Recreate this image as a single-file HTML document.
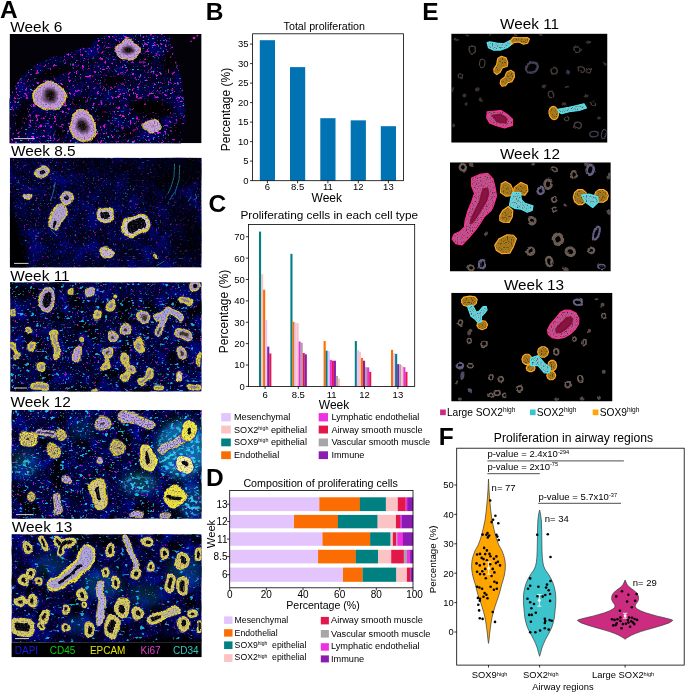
<!DOCTYPE html>
<html><head><meta charset="utf-8"><title>Figure</title>
<style>html,body{margin:0;padding:0;background:#fff}svg{display:block}text{font-family:"Liberation Sans", Arial, sans-serif}</style></head>
<body><svg width="685" height="693" viewBox="0 0 685 693">
<rect width="685" height="693" fill="#fff"/>
<text x="0.00" y="17.50" font-size="24.5" text-anchor="start" font-weight="bold" fill="#000" >A</text>
<text x="205.80" y="20.00" font-size="24.5" text-anchor="start" font-weight="bold" fill="#000" >B</text>
<text x="208.40" y="212.20" font-size="24.5" text-anchor="start" font-weight="bold" fill="#000" >C</text>
<text x="206.00" y="486.30" font-size="24.5" text-anchor="start" font-weight="bold" fill="#000" >D</text>
<text x="422.20" y="20.40" font-size="24.5" text-anchor="start" font-weight="bold" fill="#000" >E</text>
<text x="438.70" y="445.40" font-size="24.5" text-anchor="start" font-weight="bold" fill="#000" >F</text>
<text x="324.30" y="30.00" font-size="10.7" text-anchor="middle" font-weight="normal" fill="#000" >Total proliferation</text>
<rect x="259.80" y="40.20" width="15.20" height="140.40" fill="#0173b2" />
<line x1="267.40" y1="180.70" x2="267.40" y2="183.30" stroke="#000" stroke-width="0.8"/>
<rect x="290.00" y="67.11" width="15.20" height="113.49" fill="#0173b2" />
<line x1="297.60" y1="180.70" x2="297.60" y2="183.30" stroke="#000" stroke-width="0.8"/>
<rect x="320.30" y="118.20" width="15.20" height="62.40" fill="#0173b2" />
<line x1="327.90" y1="180.70" x2="327.90" y2="183.30" stroke="#000" stroke-width="0.8"/>
<rect x="350.70" y="120.34" width="15.20" height="60.25" fill="#0173b2" />
<line x1="358.30" y1="180.70" x2="358.30" y2="183.30" stroke="#000" stroke-width="0.8"/>
<rect x="380.80" y="126.19" width="15.20" height="54.41" fill="#0173b2" />
<line x1="388.40" y1="180.70" x2="388.40" y2="183.30" stroke="#000" stroke-width="0.8"/>
<text x="267.40" y="190.30" font-size="9.5" text-anchor="middle" font-weight="normal" fill="#000" >6</text>
<text x="297.60" y="190.30" font-size="9.5" text-anchor="middle" font-weight="normal" fill="#000" >8.5</text>
<text x="327.90" y="190.30" font-size="9.5" text-anchor="middle" font-weight="normal" fill="#000" >11</text>
<text x="358.30" y="190.30" font-size="9.5" text-anchor="middle" font-weight="normal" fill="#000" >12</text>
<text x="388.40" y="190.30" font-size="9.5" text-anchor="middle" font-weight="normal" fill="#000" >13</text>
<line x1="250.00" y1="180.60" x2="252.60" y2="180.60" stroke="#000" stroke-width="0.8"/>
<text x="248.60" y="183.90" font-size="9.5" text-anchor="end" font-weight="normal" fill="#000" >0</text>
<line x1="250.00" y1="161.10" x2="252.60" y2="161.10" stroke="#000" stroke-width="0.8"/>
<text x="248.60" y="164.40" font-size="9.5" text-anchor="end" font-weight="normal" fill="#000" >5</text>
<line x1="250.00" y1="141.60" x2="252.60" y2="141.60" stroke="#000" stroke-width="0.8"/>
<text x="248.60" y="144.90" font-size="9.5" text-anchor="end" font-weight="normal" fill="#000" >10</text>
<line x1="250.00" y1="122.10" x2="252.60" y2="122.10" stroke="#000" stroke-width="0.8"/>
<text x="248.60" y="125.40" font-size="9.5" text-anchor="end" font-weight="normal" fill="#000" >15</text>
<line x1="250.00" y1="102.60" x2="252.60" y2="102.60" stroke="#000" stroke-width="0.8"/>
<text x="248.60" y="105.90" font-size="9.5" text-anchor="end" font-weight="normal" fill="#000" >20</text>
<line x1="250.00" y1="83.10" x2="252.60" y2="83.10" stroke="#000" stroke-width="0.8"/>
<text x="248.60" y="86.40" font-size="9.5" text-anchor="end" font-weight="normal" fill="#000" >25</text>
<line x1="250.00" y1="63.60" x2="252.60" y2="63.60" stroke="#000" stroke-width="0.8"/>
<text x="248.60" y="66.90" font-size="9.5" text-anchor="end" font-weight="normal" fill="#000" >30</text>
<line x1="250.00" y1="44.10" x2="252.60" y2="44.10" stroke="#000" stroke-width="0.8"/>
<text x="248.60" y="47.40" font-size="9.5" text-anchor="end" font-weight="normal" fill="#000" >35</text>
<rect x="252.6" y="33.8" width="150.80" height="146.90" fill="none" stroke="#000" stroke-width="0.8"/>
<text x="326.80" y="202.40" font-size="12" text-anchor="middle" font-weight="normal" fill="#000" >Week</text>
<text transform="translate(230,109.5) rotate(-90)" font-size="12" text-anchor="middle">Percentage (%)</text>
<text x="240.40" y="218.60" font-size="11.8" text-anchor="start" font-weight="normal" fill="#000" >Proliferating cells in each cell type</text>
<rect x="259.00" y="231.61" width="2.10" height="154.79" fill="#008080" />
<rect x="261.05" y="274.15" width="2.10" height="112.25" fill="#fbc3c3" />
<rect x="263.10" y="289.76" width="2.10" height="96.64" fill="#fb6d02" />
<rect x="265.15" y="320.12" width="2.10" height="66.28" fill="#e4c4fd" />
<rect x="267.20" y="346.63" width="2.10" height="39.77" fill="#8b1cb2" />
<rect x="269.25" y="353.47" width="2.10" height="32.93" fill="#e3184a" />
<rect x="290.40" y="253.84" width="2.10" height="132.56" fill="#008080" />
<rect x="292.45" y="321.83" width="2.10" height="64.57" fill="#fb6d02" />
<rect x="294.50" y="322.90" width="2.10" height="63.50" fill="#e4c4fd" />
<rect x="296.55" y="323.12" width="2.10" height="63.28" fill="#fbc3c3" />
<rect x="298.60" y="341.50" width="2.10" height="44.90" fill="#ee30e4" />
<rect x="300.65" y="342.78" width="2.10" height="43.62" fill="#a6a6a6" />
<rect x="302.70" y="353.05" width="2.10" height="33.35" fill="#e3184a" />
<rect x="304.75" y="354.33" width="2.10" height="32.07" fill="#8b1cb2" />
<rect x="323.60" y="341.07" width="2.10" height="45.33" fill="#fb6d02" />
<rect x="325.65" y="350.70" width="2.10" height="35.70" fill="#008080" />
<rect x="327.70" y="351.12" width="2.10" height="35.28" fill="#e4c4fd" />
<rect x="329.75" y="359.89" width="2.10" height="26.51" fill="#ee30e4" />
<rect x="331.80" y="360.74" width="2.10" height="25.66" fill="#e3184a" />
<rect x="333.85" y="360.74" width="2.10" height="25.66" fill="#8b1cb2" />
<rect x="335.90" y="375.92" width="2.10" height="10.48" fill="#a6a6a6" />
<rect x="337.95" y="378.49" width="2.10" height="7.91" fill="#fbc3c3" />
<rect x="354.80" y="341.07" width="2.10" height="45.33" fill="#008080" />
<rect x="356.85" y="350.05" width="2.10" height="36.35" fill="#e4c4fd" />
<rect x="358.90" y="351.76" width="2.10" height="34.64" fill="#fbc3c3" />
<rect x="360.95" y="357.96" width="2.10" height="28.44" fill="#fb6d02" />
<rect x="363.00" y="360.74" width="2.10" height="25.66" fill="#8b1cb2" />
<rect x="365.05" y="367.16" width="2.10" height="19.24" fill="#a6a6a6" />
<rect x="367.10" y="367.37" width="2.10" height="19.03" fill="#ee30e4" />
<rect x="369.15" y="371.86" width="2.10" height="14.54" fill="#e3184a" />
<rect x="391.00" y="349.84" width="2.10" height="36.56" fill="#fb6d02" />
<rect x="393.05" y="353.05" width="2.10" height="33.35" fill="#e4c4fd" />
<rect x="395.10" y="353.90" width="2.10" height="32.50" fill="#008080" />
<rect x="397.15" y="364.16" width="2.10" height="22.24" fill="#8b1cb2" />
<rect x="399.20" y="364.38" width="2.10" height="22.02" fill="#a6a6a6" />
<rect x="401.25" y="365.88" width="2.10" height="20.52" fill="#fbc3c3" />
<rect x="403.30" y="367.16" width="2.10" height="19.24" fill="#ee30e4" />
<rect x="405.35" y="371.86" width="2.10" height="14.54" fill="#e3184a" />
<line x1="265.10" y1="386.40" x2="265.10" y2="389.00" stroke="#000" stroke-width="0.8"/>
<text x="265.10" y="397.90" font-size="9.5" text-anchor="middle" font-weight="normal" fill="#000" >6</text>
<line x1="298.30" y1="386.40" x2="298.30" y2="389.00" stroke="#000" stroke-width="0.8"/>
<text x="298.30" y="397.90" font-size="9.5" text-anchor="middle" font-weight="normal" fill="#000" >8.5</text>
<line x1="331.60" y1="386.40" x2="331.60" y2="389.00" stroke="#000" stroke-width="0.8"/>
<text x="331.60" y="397.90" font-size="9.5" text-anchor="middle" font-weight="normal" fill="#000" >11</text>
<line x1="364.50" y1="386.40" x2="364.50" y2="389.00" stroke="#000" stroke-width="0.8"/>
<text x="364.50" y="397.90" font-size="9.5" text-anchor="middle" font-weight="normal" fill="#000" >12</text>
<line x1="397.90" y1="386.40" x2="397.90" y2="389.00" stroke="#000" stroke-width="0.8"/>
<text x="397.90" y="397.90" font-size="9.5" text-anchor="middle" font-weight="normal" fill="#000" >13</text>
<line x1="245.90" y1="386.40" x2="248.50" y2="386.40" stroke="#000" stroke-width="0.8"/>
<text x="244.90" y="389.80" font-size="9.5" text-anchor="end" font-weight="normal" fill="#000" >0</text>
<line x1="245.90" y1="365.02" x2="248.50" y2="365.02" stroke="#000" stroke-width="0.8"/>
<text x="244.90" y="368.42" font-size="9.5" text-anchor="end" font-weight="normal" fill="#000" >10</text>
<line x1="245.90" y1="343.64" x2="248.50" y2="343.64" stroke="#000" stroke-width="0.8"/>
<text x="244.90" y="347.04" font-size="9.5" text-anchor="end" font-weight="normal" fill="#000" >20</text>
<line x1="245.90" y1="322.26" x2="248.50" y2="322.26" stroke="#000" stroke-width="0.8"/>
<text x="244.90" y="325.66" font-size="9.5" text-anchor="end" font-weight="normal" fill="#000" >30</text>
<line x1="245.90" y1="300.88" x2="248.50" y2="300.88" stroke="#000" stroke-width="0.8"/>
<text x="244.90" y="304.28" font-size="9.5" text-anchor="end" font-weight="normal" fill="#000" >40</text>
<line x1="245.90" y1="279.50" x2="248.50" y2="279.50" stroke="#000" stroke-width="0.8"/>
<text x="244.90" y="282.90" font-size="9.5" text-anchor="end" font-weight="normal" fill="#000" >50</text>
<line x1="245.90" y1="258.12" x2="248.50" y2="258.12" stroke="#000" stroke-width="0.8"/>
<text x="244.90" y="261.52" font-size="9.5" text-anchor="end" font-weight="normal" fill="#000" >60</text>
<line x1="245.90" y1="236.74" x2="248.50" y2="236.74" stroke="#000" stroke-width="0.8"/>
<text x="244.90" y="240.14" font-size="9.5" text-anchor="end" font-weight="normal" fill="#000" >70</text>
<rect x="248.5" y="224.4" width="166.20" height="162.00" fill="none" stroke="#000" stroke-width="0.8"/>
<text x="334.00" y="408.50" font-size="12" text-anchor="middle" font-weight="normal" fill="#000" >Week</text>
<text transform="translate(228.2,311.5) rotate(-90)" font-size="12" text-anchor="middle">Percentage (%)</text>
<rect x="221.20" y="413.10" width="9.60" height="8.30" fill="#e4c4fd" />
<text x="234.00" y="419.60" font-size="9.15" text-anchor="start" font-weight="normal" fill="#000" >Mesenchymal</text>
<rect x="221.20" y="425.60" width="9.60" height="7.90" fill="#fbc3c3" />
<text x="234.00" y="432.60" font-size="9.15" text-anchor="start" font-weight="normal" fill="#000" >SOX2<tspan dy="-2.8" font-size="5.3">high</tspan><tspan dy="2.8"> epithelial</tspan></text>
<rect x="221.20" y="438.50" width="9.60" height="7.80" fill="#008080" />
<text x="234.00" y="445.20" font-size="9.15" text-anchor="start" font-weight="normal" fill="#000" >SOX9<tspan dy="-2.8" font-size="5.3">high</tspan><tspan dy="2.8"> epithelial</tspan></text>
<rect x="221.20" y="451.30" width="9.60" height="7.80" fill="#fb6d02" />
<text x="234.00" y="458.10" font-size="9.15" text-anchor="start" font-weight="normal" fill="#000" >Endothelial</text>
<rect x="318.70" y="413.10" width="9.30" height="8.30" fill="#ee30e4" />
<text x="331.40" y="419.60" font-size="9.15" text-anchor="start" font-weight="normal" fill="#000" >Lymphatic endothelial</text>
<rect x="318.70" y="425.60" width="9.30" height="7.90" fill="#e3184a" />
<text x="331.40" y="432.60" font-size="9.15" text-anchor="start" font-weight="normal" fill="#000" >Airway smooth muscle</text>
<rect x="318.70" y="438.50" width="9.30" height="7.80" fill="#a6a6a6" />
<text x="331.40" y="445.20" font-size="9.15" text-anchor="start" font-weight="normal" fill="#000" >Vascular smooth muscle</text>
<rect x="318.70" y="451.30" width="9.30" height="7.80" fill="#8b1cb2" />
<text x="331.40" y="458.10" font-size="9.15" text-anchor="start" font-weight="normal" fill="#000" >Immune</text>
<text x="243.40" y="486.80" font-size="10.7" text-anchor="start" font-weight="normal" fill="#000" >Composition of proliferating cells</text>
<rect x="229.70" y="497.30" width="89.73" height="13.80" fill="#e4c4fd" />
<rect x="319.33" y="497.30" width="40.61" height="13.80" fill="#fb6d02" />
<rect x="359.84" y="497.30" width="26.13" height="13.80" fill="#008080" />
<rect x="385.87" y="497.30" width="12.01" height="13.80" fill="#fbc3c3" />
<rect x="397.79" y="497.30" width="7.98" height="13.80" fill="#e3184a" />
<rect x="405.67" y="497.30" width="1.57" height="13.80" fill="#ee30e4" />
<rect x="407.13" y="497.30" width="5.97" height="13.80" fill="#8b1cb2" />
<line x1="227.10" y1="504.20" x2="229.70" y2="504.20" stroke="#000" stroke-width="0.8"/>
<text x="227.50" y="507.80" font-size="10" text-anchor="end" font-weight="normal" fill="#000" >13</text>
<rect x="229.70" y="514.90" width="64.44" height="13.40" fill="#e4c4fd" />
<rect x="294.04" y="514.90" width="43.91" height="13.40" fill="#fb6d02" />
<rect x="337.85" y="514.90" width="39.88" height="13.40" fill="#008080" />
<rect x="377.62" y="514.90" width="18.43" height="13.40" fill="#fbc3c3" />
<rect x="395.95" y="514.90" width="4.13" height="13.40" fill="#e3184a" />
<rect x="399.99" y="514.90" width="1.57" height="13.40" fill="#ee30e4" />
<rect x="401.45" y="514.90" width="11.65" height="13.40" fill="#8b1cb2" />
<line x1="227.10" y1="521.60" x2="229.70" y2="521.60" stroke="#000" stroke-width="0.8"/>
<text x="227.50" y="525.20" font-size="10" text-anchor="end" font-weight="normal" fill="#000" >12</text>
<rect x="229.70" y="532.30" width="92.85" height="13.50" fill="#e4c4fd" />
<rect x="322.45" y="532.30" width="47.76" height="13.50" fill="#fb6d02" />
<rect x="370.11" y="532.30" width="20.26" height="13.50" fill="#008080" />
<rect x="390.27" y="532.30" width="1.20" height="13.50" fill="#a6a6a6" />
<rect x="391.37" y="532.30" width="1.57" height="13.50" fill="#fbc3c3" />
<rect x="392.84" y="532.30" width="3.58" height="13.50" fill="#e3184a" />
<rect x="396.32" y="532.30" width="1.02" height="13.50" fill="#a6a6a6" />
<rect x="397.24" y="532.30" width="5.78" height="13.50" fill="#ee30e4" />
<rect x="402.92" y="532.30" width="10.18" height="13.50" fill="#8b1cb2" />
<line x1="227.10" y1="539.05" x2="229.70" y2="539.05" stroke="#000" stroke-width="0.8"/>
<text x="227.50" y="542.65" font-size="10" text-anchor="end" font-weight="normal" fill="#000" >11</text>
<rect x="229.70" y="549.80" width="88.45" height="13.60" fill="#e4c4fd" />
<rect x="318.05" y="549.80" width="37.86" height="13.60" fill="#fb6d02" />
<rect x="355.81" y="549.80" width="22.46" height="13.60" fill="#008080" />
<rect x="378.17" y="549.80" width="13.11" height="13.60" fill="#fbc3c3" />
<rect x="391.19" y="549.80" width="12.75" height="13.60" fill="#e3184a" />
<rect x="403.83" y="549.80" width="3.22" height="13.60" fill="#a6a6a6" />
<rect x="406.95" y="549.80" width="3.22" height="13.60" fill="#ee30e4" />
<rect x="410.07" y="549.80" width="3.03" height="13.60" fill="#8b1cb2" />
<line x1="227.10" y1="556.60" x2="229.70" y2="556.60" stroke="#000" stroke-width="0.8"/>
<text x="227.50" y="560.20" font-size="10" text-anchor="end" font-weight="normal" fill="#000" >8.5</text>
<rect x="229.70" y="567.60" width="113.38" height="14.20" fill="#e4c4fd" />
<rect x="342.98" y="567.60" width="19.71" height="14.20" fill="#fb6d02" />
<rect x="362.59" y="567.60" width="33.83" height="14.20" fill="#008080" />
<rect x="396.32" y="567.60" width="10.73" height="14.20" fill="#fbc3c3" />
<rect x="406.95" y="567.60" width="3.58" height="14.20" fill="#e3184a" />
<rect x="410.43" y="567.60" width="2.67" height="14.20" fill="#8b1cb2" />
<line x1="227.10" y1="574.70" x2="229.70" y2="574.70" stroke="#000" stroke-width="0.8"/>
<text x="227.50" y="578.30" font-size="10" text-anchor="end" font-weight="normal" fill="#000" >6</text>
<line x1="229.70" y1="587.80" x2="229.70" y2="590.40" stroke="#000" stroke-width="0.8"/>
<text x="229.70" y="598.40" font-size="10" text-anchor="middle" font-weight="normal" fill="#000" >0</text>
<line x1="266.36" y1="587.80" x2="266.36" y2="590.40" stroke="#000" stroke-width="0.8"/>
<text x="266.36" y="598.40" font-size="10" text-anchor="middle" font-weight="normal" fill="#000" >20</text>
<line x1="303.02" y1="587.80" x2="303.02" y2="590.40" stroke="#000" stroke-width="0.8"/>
<text x="303.02" y="598.40" font-size="10" text-anchor="middle" font-weight="normal" fill="#000" >40</text>
<line x1="339.68" y1="587.80" x2="339.68" y2="590.40" stroke="#000" stroke-width="0.8"/>
<text x="339.68" y="598.40" font-size="10" text-anchor="middle" font-weight="normal" fill="#000" >60</text>
<line x1="376.34" y1="587.80" x2="376.34" y2="590.40" stroke="#000" stroke-width="0.8"/>
<text x="376.34" y="598.40" font-size="10" text-anchor="middle" font-weight="normal" fill="#000" >80</text>
<line x1="413.00" y1="587.80" x2="413.00" y2="590.40" stroke="#000" stroke-width="0.8"/>
<text x="414.50" y="598.40" font-size="10" text-anchor="middle" font-weight="normal" fill="#000" >100</text>
<rect x="229.7" y="490.4" width="183.30" height="97.40" fill="none" stroke="#000" stroke-width="0.8"/>
<text x="323.00" y="609.30" font-size="10.6" text-anchor="middle" font-weight="normal" fill="#000" >Percentage (%)</text>
<text transform="translate(215.1,534) rotate(-90)" font-size="11.2" text-anchor="middle">Week</text>
<rect x="224.10" y="616.40" width="8.40" height="7.50" fill="#e4c4fd" />
<text x="234.60" y="623.00" font-size="8.7" text-anchor="start" font-weight="normal" fill="#000" >Mesenchymal</text>
<rect x="224.10" y="629.20" width="8.40" height="7.40" fill="#fb6d02" />
<text x="234.60" y="635.60" font-size="8.7" text-anchor="start" font-weight="normal" fill="#000" >Endothelial</text>
<rect x="224.10" y="641.40" width="8.40" height="7.60" fill="#008080" />
<text x="234.60" y="648.10" font-size="8.7" text-anchor="start" font-weight="normal" fill="#000" >SOX9<tspan dy="-2.7" font-size="5.0">high</tspan><tspan dy="2.7">&#160;&#160;epithelial</tspan></text>
<rect x="224.10" y="654.20" width="8.40" height="7.70" fill="#fbc3c3" />
<text x="234.60" y="660.40" font-size="8.7" text-anchor="start" font-weight="normal" fill="#000" >SOX2<tspan dy="-2.7" font-size="5.0">high</tspan><tspan dy="2.7">&#160;&#160;epithelial</tspan></text>
<rect x="320.80" y="616.90" width="8.10" height="7.50" fill="#e3184a" />
<text x="331.00" y="623.40" font-size="9.2" text-anchor="start" font-weight="normal" fill="#000" >Airway smooth muscle</text>
<rect x="320.80" y="630.00" width="8.10" height="7.60" fill="#a6a6a6" />
<text x="331.00" y="636.50" font-size="9.2" text-anchor="start" font-weight="normal" fill="#000" >Vascular smooth muscle</text>
<rect x="320.80" y="643.20" width="8.10" height="7.50" fill="#ee30e4" />
<text x="331.00" y="649.00" font-size="9.2" text-anchor="start" font-weight="normal" fill="#000" >Lymphatic endothelial</text>
<rect x="320.80" y="655.40" width="8.10" height="7.00" fill="#8b1cb2" />
<text x="331.00" y="661.60" font-size="9.2" text-anchor="start" font-weight="normal" fill="#000" >Immune</text>
<text x="529.60" y="29.40" font-size="15.3" text-anchor="middle" font-weight="normal" fill="#000" >Week 11</text>
<text x="530.00" y="159.10" font-size="15.3" text-anchor="middle" font-weight="normal" fill="#000" >Week 12</text>
<text x="534.00" y="289.90" font-size="15.3" text-anchor="middle" font-weight="normal" fill="#000" >Week 13</text>
<rect x="440.10" y="409.50" width="5.70" height="5.70" fill="#cb2c80" />
<text x="446.90" y="415.80" font-size="10.2" text-anchor="start" font-weight="normal" fill="#000" >Large SOX2<tspan dy="-3.4" font-size="6.6">high</tspan></text>
<rect x="529.90" y="409.50" width="5.70" height="5.70" fill="#3cc4cc" />
<text x="536.70" y="415.80" font-size="10.2" text-anchor="start" font-weight="normal" fill="#000" >SOX2<tspan dy="-3.4" font-size="6.6">high</tspan></text>
<rect x="592.70" y="409.50" width="5.70" height="5.70" fill="#ffa50a" />
<text x="599.70" y="415.80" font-size="10.2" text-anchor="start" font-weight="normal" fill="#000" >SOX9<tspan dy="-3.4" font-size="6.6">high</tspan></text>
<text x="10.30" y="31.80" font-size="15.4" text-anchor="start" font-weight="normal" fill="#000" >Week 6</text>
<text x="10.90" y="155.60" font-size="15.4" text-anchor="start" font-weight="normal" fill="#000" >Week 8.5</text>
<text x="10.30" y="280.50" font-size="15.4" text-anchor="start" font-weight="normal" fill="#000" >Week 11</text>
<text x="10.40" y="406.80" font-size="15.4" text-anchor="start" font-weight="normal" fill="#000" >Week 12</text>
<text x="11.80" y="531.80" font-size="15.4" text-anchor="start" font-weight="normal" fill="#000" >Week 13</text>
<defs>
<filter id="fBlue" x="0" y="0" width="1" height="1" color-interpolation-filters="sRGB">
 <feTurbulence type="fractalNoise" baseFrequency="0.5" numOctaves="2" seed="3"/>
 <feColorMatrix type="matrix" values="0 0 0 0 0.04  0 0 0 0 0.04  0 0 0 0 0.85  3.2 0 0 0 -1.6"/>
</filter>
<filter id="fBlue2" x="0" y="0" width="1" height="1" color-interpolation-filters="sRGB">
 <feTurbulence type="fractalNoise" baseFrequency="0.07" numOctaves="2" seed="11"/>
 <feColorMatrix type="matrix" values="0 0 0 0 0.0  0 0 0 0 0.03  0 0 0 0 0.6  0 3.0 0 0 -1.35"/>
</filter>
<filter id="fMag" x="0" y="0" width="1" height="1" color-interpolation-filters="sRGB">
 <feTurbulence type="fractalNoise" baseFrequency="0.34" numOctaves="2" seed="5"/>
 <feColorMatrix type="matrix" values="0 0 0 0 0.85  0 0 0 0 0.1  0 0 0 0 0.85  15 0 0 0 -10.5"/>
</filter>
<filter id="fMagD" x="0" y="0" width="1" height="1" color-interpolation-filters="sRGB">
 <feTurbulence type="fractalNoise" baseFrequency="0.28" numOctaves="2" seed="8"/>
 <feColorMatrix type="matrix" values="0 0 0 0 0.88  0 0 0 0 0.08  0 0 0 0 0.9  14 0 0 0 -9.2"/>
</filter>
<filter id="fCy" x="0" y="0" width="1" height="1" color-interpolation-filters="sRGB">
 <feTurbulence type="fractalNoise" baseFrequency="0.4 0.55" numOctaves="1" seed="21"/>
 <feColorMatrix type="matrix" values="0 0 0 0 0.1  0 0 0 0 0.74  0 0 0 0 0.9  0 14 0 0 -9.5"/>
</filter>
<filter id="fCyD" x="0" y="0" width="1" height="1" color-interpolation-filters="sRGB">
 <feTurbulence type="fractalNoise" baseFrequency="0.2 0.3" numOctaves="2" seed="33"/>
 <feColorMatrix type="matrix" values="0 0 0 0 0.08  0 0 0 0 0.72  0 0 0 0 0.92  0 11 0 0 -7.3"/>
</filter>
<filter id="fDark" x="0" y="0" width="1" height="1" color-interpolation-filters="sRGB">
 <feTurbulence type="fractalNoise" baseFrequency="0.06" numOctaves="2" seed="17"/>
 <feColorMatrix type="matrix" values="0 0 0 0 0  0 0 0 0 0  0 0 0 0 0.04  0 0 -5 0 2.55"/>
</filter>
<filter id="fCyX" x="0" y="0" width="1" height="1" color-interpolation-filters="sRGB">
 <feTurbulence type="fractalNoise" baseFrequency="0.22 0.3" numOctaves="2" seed="52"/>
 <feColorMatrix type="matrix" values="0 0 0 0 0.2  0 0 0 0 0.8  0 0 0 0 0.95  0 9 0 0 -4.6"/>
</filter>
<filter id="fGr" x="0" y="0" width="1" height="1" color-interpolation-filters="sRGB">
 <feTurbulence type="fractalNoise" baseFrequency="0.4" numOctaves="1" seed="41"/>
 <feColorMatrix type="matrix" values="0 0 0 0 0.1  0 0 0 0 0.85  0 0 0 0 0.3  0 0 14 0 -10.0"/>
</filter>
<filter id="fTex" filterUnits="userSpaceOnUse" x="0" y="0" width="210" height="693" color-interpolation-filters="sRGB">
 <feTurbulence type="fractalNoise" baseFrequency="0.07" numOctaves="1" seed="7" result="w"/>
 <feDisplacementMap in="SourceGraphic" in2="w" scale="9" xChannelSelector="R" yChannelSelector="G" result="sg"/>
 <feTurbulence type="fractalNoise" baseFrequency="0.7" numOctaves="1" seed="2" result="n"/>
 <feColorMatrix in="n" type="matrix" values="0 0 0 0 0.3  0 0 0 0 0.26  0 0 0 0 0.5  -3.2 0 0 0 1.8" result="dark"/>
 <feComposite in="dark" in2="sg" operator="in" result="d2"/>
 <feMerge><feMergeNode in="sg"/><feMergeNode in="d2"/></feMerge>
</filter>
<filter id="fTexL" filterUnits="userSpaceOnUse" x="0" y="0" width="210" height="693" color-interpolation-filters="sRGB">
 <feTurbulence type="fractalNoise" baseFrequency="0.07" numOctaves="1" seed="7" result="w"/>
 <feDisplacementMap in="SourceGraphic" in2="w" scale="9" xChannelSelector="R" yChannelSelector="G" result="sg"/>
 <feTurbulence type="fractalNoise" baseFrequency="0.7" numOctaves="1" seed="2" result="n"/>
 <feColorMatrix in="n" type="matrix" values="0 0 0 0 0.35  0 0 0 0 0.3  0 0 0 0 0.5  -2.6 0 0 0 1.3" result="dark"/>
 <feComposite in="dark" in2="sg" operator="in" result="d2"/>
 <feMerge><feMergeNode in="sg"/><feMergeNode in="d2"/></feMerge>
</filter>
<filter id="blur2"><feGaussianBlur stdDeviation="2.2"/></filter>
<filter id="blur1"><feGaussianBlur stdDeviation="0.5"/></filter>
<filter id="blur4"><feGaussianBlur stdDeviation="4"/></filter>
</defs>
<clipPath id="cl1"><rect x="9.6" y="33.9" width="192.00" height="109.40"/></clipPath>
<g clip-path="url(#cl1)">
<rect x="9.6" y="33.9" width="192.00" height="109.40" fill="#020208"/>
<clipPath id="tis1"><polygon points="8.0,101.5 13.7,88.7 22.9,74.3 36.6,64.3 50.9,57.5 69.5,52.9 83.0,47.2 90.4,47.7 93.8,40.3 106.7,34.0 168.2,33.4 173.1,47.2 177.4,64.3 181.7,81.5 184.5,101.5 186.0,121.6 181.1,144.4 8.0,144.4"/></clipPath>
<g clip-path="url(#tis1)">
<polygon points="8.0,101.5 13.7,88.7 22.9,74.3 36.6,64.3 50.9,57.5 69.5,52.9 83.0,47.2 90.4,47.7 93.8,40.3 106.7,34.0 168.2,33.4 173.1,47.2 177.4,64.3 181.7,81.5 184.5,101.5 186.0,121.6 181.1,144.4 8.0,144.4" fill="#02021c"/>
<rect x="9.6" y="33.9" width="192.00" height="109.40" filter="url(#fBlue2)" opacity="0.6"/>
<rect x="9.6" y="33.9" width="192.00" height="109.40" filter="url(#fBlue)" opacity="0.65"/>
<rect x="9.6" y="33.9" width="192.00" height="109.40" filter="url(#fCy)" opacity="0.9"/>
<rect x="9.6" y="33.9" width="192.00" height="109.40" filter="url(#fMagD)" opacity="1"/>
<rect x="9.6" y="33.9" width="192.00" height="109.40" filter="url(#fGr)" opacity="0.5"/>
<g filter="url(#blur2)" fill="#000">
<ellipse cx="53.8" cy="72.9" rx="20.0" ry="4.9" opacity="1" transform="rotate(-16 53.8 72.9)"/>
<ellipse cx="115.3" cy="80.1" rx="12.9" ry="6.3" opacity="0.9" transform="rotate(-10 115.3 80.1)"/>
<ellipse cx="151.1" cy="108.7" rx="22.9" ry="9.2" opacity="1" transform="rotate(5 151.1 108.7)"/>
<ellipse cx="79.5" cy="101.5" rx="8.6" ry="5.2" opacity="0.9" transform="rotate(0 79.5 101.5)"/>
<ellipse cx="20.9" cy="115.8" rx="6.3" ry="17.2" opacity="0.9" transform="rotate(20 20.9 115.8)"/>
<ellipse cx="102.4" cy="115.8" rx="7.2" ry="8.6" opacity="0.8" transform="rotate(0 102.4 115.8)"/>
<ellipse cx="169.7" cy="61.5" rx="8.0" ry="12.9" opacity="0.9" transform="rotate(10 169.7 61.5)"/>
<ellipse cx="142.5" cy="58.6" rx="11.4" ry="4.0" opacity="0.8" transform="rotate(0 142.5 58.6)"/>
<ellipse cx="59.5" cy="133.0" rx="7.2" ry="5.7" opacity="0.8" transform="rotate(0 59.5 133.0)"/>
<ellipse cx="93.8" cy="61.5" rx="7.2" ry="3.4" opacity="0.8" transform="rotate(-30 93.8 61.5)"/>
<ellipse cx="176.8" cy="133.0" rx="8.6" ry="11.4" opacity="0.8" transform="rotate(0 176.8 133.0)"/>
<ellipse cx="128.2" cy="133.0" rx="11.4" ry="5.7" opacity="0.7" transform="rotate(0 128.2 133.0)"/>
</g>
<rect x="9.6" y="33.9" width="192.00" height="109.40" filter="url(#fMag)" opacity="0.8"/>
</g>
<circle cx="194.0" cy="38.0" r="1.3" fill="#d020d0"/><circle cx="197.4" cy="35.7" r="0.9" fill="#d020d0"/><circle cx="191.1" cy="41.4" r="0.8" fill="#c020d0"/>
<defs><radialGradient id="rg1"><stop offset="0" stop-color="#0c0806"/><stop offset="0.22" stop-color="#1c120c"/><stop offset="0.42" stop-color="#7a5a88"/><stop offset="0.6" stop-color="#c49cdc"/><stop offset="0.86" stop-color="#c898d8"/><stop offset="0.93" stop-color="#e0d030"/><stop offset="1" stop-color="#d8c828"/></radialGradient><radialGradient id="rg1b"><stop offset="0" stop-color="#a888b0"/><stop offset="0.5" stop-color="#d0a8dc"/><stop offset="0.84" stop-color="#c8a0d8"/><stop offset="0.93" stop-color="#e0d030"/><stop offset="1" stop-color="#d8c828"/></radialGradient></defs>
<g filter="url(#fTexL)">
<ellipse cx="49.8" cy="96.4" rx="16.6" ry="14.3" fill="url(#rg1)"/>
<ellipse cx="83.0" cy="125.9" rx="14.0" ry="16.0" fill="url(#rg1)"/>
<ellipse cx="127.6" cy="49.5" rx="11.4" ry="10.3" fill="url(#rg1)"/>
<ellipse cx="152.5" cy="125.9" rx="10.3" ry="8.6" fill="url(#rg1b)"/>
</g>
<line x1="13.9" y1="138.6" x2="34.8" y2="138.6" stroke="#e8e8e8" stroke-width="0.9"/>
</g>
<clipPath id="cl2"><rect x="9.9" y="157.8" width="191.70" height="109.80"/></clipPath>
<g clip-path="url(#cl2)">
<rect x="9.9" y="157.8" width="191.70" height="109.80" fill="#02021a"/>
<rect x="9.9" y="157.8" width="191.70" height="109.80" filter="url(#fBlue2)" opacity="0.6"/>
<rect x="9.9" y="157.8" width="191.70" height="109.80" filter="url(#fBlue)" opacity="0.6"/>
<rect x="9.9" y="157.8" width="191.70" height="109.80" filter="url(#fCy)" opacity="0.5"/>
<rect x="9.9" y="157.8" width="191.70" height="109.80" filter="url(#fMag)" opacity="0.55"/>
<rect x="9.9" y="157.8" width="191.70" height="109.80" filter="url(#fGr)" opacity="0.4"/>
<g filter="url(#blur2)" fill="#000">
<polygon points="8.0,188.3 11.4,196.9 14.9,214.1 18.9,229.8 25.2,254.1 29.7,269.0 8.0,269.0"/>
</g>
<g filter="url(#blur4)" fill="#000">
<ellipse cx="179.7" cy="171.2" rx="25.8" ry="17.2" opacity="0.75"/>
<ellipse cx="191.1" cy="239.8" rx="17.2" ry="20.0" opacity="0.6"/>
<ellipse cx="93.8" cy="165.4" rx="22.9" ry="8.6" opacity="0.55"/>
<ellipse cx="156.8" cy="188.3" rx="17.2" ry="14.3" opacity="0.5"/>
<ellipse cx="179.7" cy="211.2" rx="17.2" ry="11.4" opacity="0.45"/>
<ellipse cx="128.2" cy="171.2" rx="17.2" ry="11.4" opacity="0.5"/>
</g>
<g fill="none" stroke="#22c4dc" stroke-width="1.0" stroke-linecap="round" opacity="0.6" stroke-dasharray="2.5 1">
<path d="M55.2,182.6 L53.2,192.6 L50.9,199.8"/>
<path d="M179.7,165.4 L179.1,179.8 L175.4,191.2 L169.7,199.8"/>
<path d="M174.5,164.0 L174.0,176.9 L171.1,186.9 L167.7,194.1"/>
<path d="M195.4,194.1 L196.8,198.3 L194.0,199.8"/>
<path d="M191.1,196.9 L188.3,201.2"/>
<path d="M50.9,229.8 L56.6,235.5"/>
<path d="M156.8,265.6 L163.9,261.3"/>
</g>
<g filter="url(#fTexL)">
<g fill="none" stroke="#1010a8" stroke-opacity="0.5" stroke-linecap="round" stroke-linejoin="round">
<path d="M40.5,173.3 L44.2,171.9" stroke-width="15.8"/>
<path d="M26.0,195.8 L28.9,196.3" stroke-width="9.5"/>
<path d="M66.7,198.3 L66.7,198.3" stroke-width="15.2"/>
<path d="M61.8,209.8 L53.8,224.1" stroke-width="15.8"/>
<path d="M101.9,214.0 L107.5,213.0" stroke-width="15.2"/>
<path d="M131.3,227.8 L141.1,223.2" stroke-width="21.5"/>
<path d="M106.2,252.5 L109.0,253.0" stroke-width="12.9"/>
<path d="M155.4,254.1 L155.9,257.6" stroke-width="5.2"/>
</g>
<g fill="none" stroke-linecap="round" stroke-linejoin="round">
<path d="M40.5,173.3 L44.2,171.9" stroke="#e2d224" stroke-width="13.2"/>
<path d="M26.0,195.8 L28.9,196.3" stroke="#e2d224" stroke-width="6.9"/>
<path d="M66.7,198.3 L66.7,198.3" stroke="#e2d224" stroke-width="12.6"/>
<path d="M61.8,209.8 L53.8,224.1" stroke="#e2d224" stroke-width="13.2"/>
<path d="M101.9,214.0 L107.5,213.0" stroke="#e2d224" stroke-width="12.6"/>
<path d="M131.3,227.8 L141.1,223.2" stroke="#e2d224" stroke-width="18.9"/>
<path d="M106.2,252.5 L109.0,253.0" stroke="#e2d224" stroke-width="10.3"/>
<path d="M155.4,254.1 L155.9,257.6" stroke="#e2d224" stroke-width="2.6"/>
<path d="M40.5,173.3 L44.2,171.9" stroke="#b8a8d0" stroke-width="10.0"/>
<path d="M26.0,195.8 L28.9,196.3" stroke="#c0b0c8" stroke-width="4.5"/>
<path d="M66.7,198.3 L66.7,198.3" stroke="#b8a4d4" stroke-width="9.8"/>
<path d="M61.8,209.8 L53.8,224.1" stroke="#b4a4d0" stroke-width="10.0"/>
<path d="M101.9,214.0 L107.5,213.0" stroke="#c8b8c8" stroke-width="9.4"/>
<path d="M131.3,227.8 L141.1,223.2" stroke="#d0c8d0" stroke-width="14.5"/>
<path d="M106.2,252.5 L109.0,253.0" stroke="#c8b4cc" stroke-width="7.3"/>
<path d="M41.0,173.1 L43.7,172.1" stroke="#05050a" stroke-width="4.6"/>
<path d="M66.7,198.3 L66.7,198.3" stroke="#05050a" stroke-width="4.0"/>
<path d="M55.2,221.2 L53.2,227.0" stroke="#05050a" stroke-width="2.9"/>
<path d="M102.7,213.9 L106.7,213.2" stroke="#05050a" stroke-width="4.9"/>
<path d="M132.7,227.1 L139.6,223.9" stroke="#030306" stroke-width="10.9"/>
</g></g>
<line x1="14" y1="263.4" x2="28.6" y2="263.4" stroke="#e8e8e8" stroke-width="0.9"/>
</g>
<clipPath id="cl3"><rect x="10.2" y="282.2" width="191.40" height="109.40"/></clipPath>
<g clip-path="url(#cl3)">
<rect x="10.2" y="282.2" width="191.40" height="109.40" fill="#020226"/>
<rect x="10.2" y="282.2" width="191.40" height="109.40" filter="url(#fBlue2)" opacity="0.75"/>
<rect x="10.2" y="282.2" width="191.40" height="109.40" filter="url(#fBlue)" opacity="0.7"/>
<rect x="10.2" y="282.2" width="191.40" height="109.40" filter="url(#fDark)" opacity="1"/>
<rect x="10.2" y="282.2" width="191.40" height="109.40" filter="url(#fCyD)" opacity="0.95"/>
<rect x="10.2" y="282.2" width="191.40" height="109.40" filter="url(#fCy)" opacity="0.8"/>
<rect x="10.2" y="282.2" width="191.40" height="109.40" filter="url(#fMag)" opacity="0.8"/>
<rect x="10.2" y="282.2" width="191.40" height="109.40" filter="url(#fGr)" opacity="0.7"/>
<g filter="url(#fTexL)">
<g fill="none" stroke="#1010a8" stroke-opacity="0.5" stroke-linecap="round" stroke-linejoin="round">
<path d="M45.7,295.8 L47.6,304.8" stroke-width="17.5"/>
<path d="M70.4,290.9 L72.7,290.9" stroke-width="8.3"/>
<path d="M90.4,291.2 L90.4,293.5" stroke-width="11.2"/>
<path d="M111.6,303.6 L110.4,306.8" stroke-width="12.3"/>
<path d="M97.8,314.6 L98.4,314.6" stroke-width="10.6"/>
<path d="M115.3,296.6 L115.3,296.6" stroke-width="6.6"/>
<path d="M143.1,315.8 L143.1,317.5" stroke-width="12.9"/>
<path d="M155.1,318.3 L165.9,312.6 L170.2,310.0 L176.0,314.1 L181.1,318.3" stroke-width="9.5"/>
<path d="M163.9,314.6 L160.8,320.9 L159.1,332.4" stroke-width="9.5"/>
<path d="M183.8,299.7 L187.0,302.0" stroke-width="10.6"/>
<path d="M193.4,286.0 L195.7,286.0" stroke-width="12.9"/>
<path d="M179.2,332.2 L185.9,335.4" stroke-width="12.9"/>
<path d="M113.9,336.1 L113.9,336.1" stroke-width="14.6"/>
<path d="M125.3,328.9 L125.3,328.9" stroke-width="14.0"/>
<path d="M138.5,342.3 L141.9,348.2" stroke-width="10.6"/>
<path d="M181.1,353.8 L181.1,355.5" stroke-width="14.0"/>
<path d="M199.1,353.3 L199.1,365.8" stroke-width="7.2"/>
<path d="M54.6,334.1 L55.8,356.4" stroke-width="10.0"/>
<path d="M28.0,330.1 L28.0,331.8" stroke-width="9.5"/>
<path d="M32.3,345.8 L32.3,346.4" stroke-width="10.6"/>
<path d="M12.0,345.2 L12.0,345.2" stroke-width="8.9"/>
<path d="M16.6,356.7 L16.6,356.7" stroke-width="9.5"/>
<path d="M12.0,345.2 L16.6,356.7" stroke-width="6.0"/>
<path d="M13.2,311.8 L13.2,312.9" stroke-width="9.5"/>
<path d="M81.0,339.5 L81.0,339.5" stroke-width="8.3"/>
<path d="M76.7,349.5 L76.1,358.1" stroke-width="11.2"/>
<path d="M108.1,353.0 L108.2,353.0" stroke-width="12.9"/>
<path d="M103.9,367.3 L103.9,367.3" stroke-width="12.3"/>
<path d="M108.1,353.0 L103.9,367.3" stroke-width="7.8"/>
<path d="M124.7,358.1 L124.7,358.1" stroke-width="11.8"/>
<path d="M131.6,369.0 L131.6,369.0" stroke-width="12.9"/>
<path d="M123.9,377.6 L123.9,377.6" stroke-width="11.2"/>
<path d="M124.7,358.1 L131.6,369.0 L123.9,377.6" stroke-width="8.3"/>
<path d="M141.0,381.6 L141.1,381.6" stroke-width="12.3"/>
<path d="M150.2,373.9 L150.2,373.9" stroke-width="11.8"/>
<path d="M141.0,381.6 L150.2,373.9" stroke-width="7.8"/>
<path d="M40.9,366.4 L40.9,368.1" stroke-width="11.2"/>
<path d="M33.2,386.7 L45.8,386.7" stroke-width="10.6"/>
<path d="M179.7,375.6 L179.7,377.9" stroke-width="9.5"/>
<path d="M190.0,386.6 L197.9,388.0" stroke-width="9.5"/>
<path d="M155.4,388.4 L161.1,388.4" stroke-width="8.3"/>
<path d="M93.3,389.6 L94.4,389.6" stroke-width="7.2"/>
</g>
<g fill="none" stroke-linecap="round" stroke-linejoin="round">
<path d="M45.7,295.8 L47.6,304.8" stroke="#e2d224" stroke-width="14.9"/>
<path d="M70.4,290.9 L72.7,290.9" stroke="#e2d224" stroke-width="5.7"/>
<path d="M90.4,291.2 L90.4,293.5" stroke="#e2d224" stroke-width="8.6"/>
<path d="M111.6,303.6 L110.4,306.8" stroke="#e2d224" stroke-width="9.7"/>
<path d="M97.8,314.6 L98.4,314.6" stroke="#e2d224" stroke-width="8.0"/>
<path d="M115.3,296.6 L115.3,296.6" stroke="#e2d224" stroke-width="4.0"/>
<path d="M143.1,315.8 L143.1,317.5" stroke="#e2d224" stroke-width="10.3"/>
<path d="M155.1,318.3 L165.9,312.6 L170.2,310.0 L176.0,314.1 L181.1,318.3" stroke="#e2d224" stroke-width="6.9"/>
<path d="M163.9,314.6 L160.8,320.9 L159.1,332.4" stroke="#e2d224" stroke-width="6.9"/>
<path d="M183.8,299.7 L187.0,302.0" stroke="#e2d224" stroke-width="8.0"/>
<path d="M193.4,286.0 L195.7,286.0" stroke="#e2d224" stroke-width="10.3"/>
<path d="M179.2,332.2 L185.9,335.4" stroke="#e2d224" stroke-width="10.3"/>
<path d="M113.9,336.1 L113.9,336.1" stroke="#e2d224" stroke-width="12.0"/>
<path d="M125.3,328.9 L125.3,328.9" stroke="#e2d224" stroke-width="11.4"/>
<path d="M138.5,342.3 L141.9,348.2" stroke="#e2d224" stroke-width="8.0"/>
<path d="M181.1,353.8 L181.1,355.5" stroke="#e2d224" stroke-width="11.4"/>
<path d="M199.1,353.3 L199.1,365.8" stroke="#e2d224" stroke-width="4.6"/>
<path d="M54.6,334.1 L55.8,356.4" stroke="#e2d224" stroke-width="7.4"/>
<path d="M28.0,330.1 L28.0,331.8" stroke="#e2d224" stroke-width="6.9"/>
<path d="M32.3,345.8 L32.3,346.4" stroke="#e2d224" stroke-width="8.0"/>
<path d="M12.0,345.2 L12.0,345.2" stroke="#e2d224" stroke-width="6.3"/>
<path d="M16.6,356.7 L16.6,356.7" stroke="#e2d224" stroke-width="6.9"/>
<path d="M12.0,345.2 L16.6,356.7" stroke="#e2d224" stroke-width="3.4"/>
<path d="M13.2,311.8 L13.2,312.9" stroke="#e2d224" stroke-width="6.9"/>
<path d="M81.0,339.5 L81.0,339.5" stroke="#e2d224" stroke-width="5.7"/>
<path d="M76.7,349.5 L76.1,358.1" stroke="#e2d224" stroke-width="8.6"/>
<path d="M108.1,353.0 L108.2,353.0" stroke="#e2d224" stroke-width="10.3"/>
<path d="M103.9,367.3 L103.9,367.3" stroke="#e2d224" stroke-width="9.7"/>
<path d="M108.1,353.0 L103.9,367.3" stroke="#e2d224" stroke-width="5.2"/>
<path d="M124.7,358.1 L124.7,358.1" stroke="#e2d224" stroke-width="9.2"/>
<path d="M131.6,369.0 L131.6,369.0" stroke="#e2d224" stroke-width="10.3"/>
<path d="M123.9,377.6 L123.9,377.6" stroke="#e2d224" stroke-width="8.6"/>
<path d="M124.7,358.1 L131.6,369.0 L123.9,377.6" stroke="#e2d224" stroke-width="5.7"/>
<path d="M141.0,381.6 L141.1,381.6" stroke="#e2d224" stroke-width="9.7"/>
<path d="M150.2,373.9 L150.2,373.9" stroke="#e2d224" stroke-width="9.2"/>
<path d="M141.0,381.6 L150.2,373.9" stroke="#e2d224" stroke-width="5.2"/>
<path d="M40.9,366.4 L40.9,368.1" stroke="#e2d224" stroke-width="8.6"/>
<path d="M33.2,386.7 L45.8,386.7" stroke="#e2d224" stroke-width="8.0"/>
<path d="M179.7,375.6 L179.7,377.9" stroke="#e2d224" stroke-width="6.9"/>
<path d="M190.0,386.6 L197.9,388.0" stroke="#e2d224" stroke-width="6.9"/>
<path d="M155.4,388.4 L161.1,388.4" stroke="#e2d224" stroke-width="5.7"/>
<path d="M93.3,389.6 L94.4,389.6" stroke="#e2d224" stroke-width="4.6"/>
<path d="M45.7,295.8 L47.6,304.8" stroke="#b09ccc" stroke-width="12.2"/>
<path d="M70.4,290.9 L72.7,290.9" stroke="#c8b850" stroke-width="3.0"/>
<path d="M90.4,291.2 L90.4,293.5" stroke="#b0a0e0" stroke-width="5.9"/>
<path d="M111.6,303.6 L110.4,306.8" stroke="#cdbe5c" stroke-width="7.0"/>
<path d="M97.8,314.6 L98.4,314.6" stroke="#cdbe5c" stroke-width="5.3"/>
<path d="M115.3,296.6 L115.3,296.6" stroke="#e2d224" stroke-width="1.3"/>
<path d="M143.1,315.8 L143.1,317.5" stroke="#b09ccc" stroke-width="7.6"/>
<path d="M155.1,318.3 L165.9,312.6 L170.2,310.0 L176.0,314.1 L181.1,318.3" stroke="#a8a0dc" stroke-width="4.5"/>
<path d="M163.9,314.6 L160.8,320.9 L159.1,332.4" stroke="#a8a0dc" stroke-width="4.5"/>
<path d="M183.8,299.7 L187.0,302.0" stroke="#cdbe5c" stroke-width="5.3"/>
<path d="M193.4,286.0 L195.7,286.0" stroke="#b09ccc" stroke-width="7.6"/>
<path d="M179.2,332.2 L185.9,335.4" stroke="#b09ccc" stroke-width="7.6"/>
<path d="M113.9,336.1 L113.9,336.1" stroke="#b09ccc" stroke-width="9.3"/>
<path d="M125.3,328.9 L125.3,328.9" stroke="#b09ccc" stroke-width="8.7"/>
<path d="M138.5,342.3 L141.9,348.2" stroke="#cdbe5c" stroke-width="5.3"/>
<path d="M181.1,353.8 L181.1,355.5" stroke="#b09ccc" stroke-width="8.7"/>
<path d="M199.1,353.3 L199.1,365.8" stroke="#cdbe5c" stroke-width="1.9"/>
<path d="M54.6,334.1 L55.8,356.4" stroke="#cdbe5c" stroke-width="4.7"/>
<path d="M28.0,330.1 L28.0,331.8" stroke="#cdbe5c" stroke-width="4.2"/>
<path d="M32.3,345.8 L32.3,346.4" stroke="#cdbe5c" stroke-width="5.3"/>
<path d="M12.0,345.2 L12.0,345.2" stroke="#cdbe5c" stroke-width="3.6"/>
<path d="M16.6,356.7 L16.6,356.7" stroke="#cdbe5c" stroke-width="4.2"/>
<path d="M12.0,345.2 L16.6,356.7" stroke="#cdbe5c" stroke-width="0.7"/>
<path d="M13.2,311.8 L13.2,312.9" stroke="#cdbe5c" stroke-width="4.2"/>
<path d="M81.0,339.5 L81.0,339.5" stroke="#c8b850" stroke-width="3.0"/>
<path d="M76.7,349.5 L76.1,358.1" stroke="#b898d8" stroke-width="5.9"/>
<path d="M108.1,353.0 L108.2,353.0" stroke="#b09ccc" stroke-width="7.6"/>
<path d="M103.9,367.3 L103.9,367.3" stroke="#cdbe5c" stroke-width="7.0"/>
<path d="M108.1,353.0 L103.9,367.3" stroke="#cdbe5c" stroke-width="2.5"/>
<path d="M124.7,358.1 L124.7,358.1" stroke="#cdbe5c" stroke-width="6.5"/>
<path d="M131.6,369.0 L131.6,369.0" stroke="#b09ccc" stroke-width="7.6"/>
<path d="M123.9,377.6 L123.9,377.6" stroke="#cdbe5c" stroke-width="5.9"/>
<path d="M124.7,358.1 L131.6,369.0 L123.9,377.6" stroke="#cdbe5c" stroke-width="3.0"/>
<path d="M141.0,381.6 L141.1,381.6" stroke="#cdbe5c" stroke-width="7.0"/>
<path d="M150.2,373.9 L150.2,373.9" stroke="#cdbe5c" stroke-width="6.5"/>
<path d="M141.0,381.6 L150.2,373.9" stroke="#cdbe5c" stroke-width="2.5"/>
<path d="M40.9,366.4 L40.9,368.1" stroke="#cdbe5c" stroke-width="5.9"/>
<path d="M33.2,386.7 L45.8,386.7" stroke="#cdbe5c" stroke-width="5.3"/>
<path d="M179.7,375.6 L179.7,377.9" stroke="#d8d0f0" stroke-width="4.2"/>
<path d="M190.0,386.6 L197.9,388.0" stroke="#cdbe5c" stroke-width="4.2"/>
<path d="M155.4,388.4 L161.1,388.4" stroke="#cdbe5c" stroke-width="3.0"/>
<path d="M93.3,389.6 L94.4,389.6" stroke="#cdbe5c" stroke-width="1.9"/>
<path d="M46.0,297.2 L47.3,303.5" stroke="#040408" stroke-width="6.9"/>
<path d="M111.4,304.1 L110.6,306.3" stroke="#8c84a4" stroke-width="3.5"/>
<path d="M97.9,314.6 L98.3,314.6" stroke="#8c84a4" stroke-width="2.9"/>
<path d="M143.1,316.0 L143.1,317.2" stroke="#3a3810" stroke-width="3.7"/>
<path d="M159.9,327.2 L159.1,332.4" stroke="#3a3810" stroke-width="2.0"/>
<path d="M184.2,300.1 L186.5,301.7" stroke="#8c84a4" stroke-width="2.9"/>
<path d="M193.8,286.0 L195.4,286.0" stroke="#06060a" stroke-width="4.0"/>
<path d="M180.2,332.7 L184.9,334.9" stroke="#3a3810" stroke-width="3.7"/>
<path d="M113.9,336.1 L113.9,336.1" stroke="#3a3810" stroke-width="4.0"/>
<path d="M125.3,328.9 L125.3,328.9" stroke="#3a3810" stroke-width="3.4"/>
<path d="M139.0,343.2 L141.4,347.3" stroke="#8c84a4" stroke-width="2.9"/>
<path d="M181.1,354.1 L181.1,355.3" stroke="#3a3810" stroke-width="3.4"/>
<path d="M54.8,337.4 L55.6,353.0" stroke="#8c84a4" stroke-width="1.4"/>
<path d="M28.0,330.3 L28.0,331.5" stroke="#8c84a4" stroke-width="2.5"/>
<path d="M32.3,345.9 L32.3,346.3" stroke="#8c84a4" stroke-width="2.9"/>
<path d="M12.0,345.2 L12.0,345.2" stroke="#8c84a4" stroke-width="2.3"/>
<path d="M16.6,356.7 L16.6,356.7" stroke="#8c84a4" stroke-width="2.5"/>
<path d="M13.2,311.8 L13.2,312.9" stroke="#8c84a4" stroke-width="2.5"/>
<path d="M108.1,353.0 L108.2,353.0" stroke="#3a3810" stroke-width="3.1"/>
<path d="M103.9,367.3 L103.9,367.3" stroke="#8c84a4" stroke-width="3.1"/>
<path d="M124.7,358.1 L124.7,358.1" stroke="#8c84a4" stroke-width="2.6"/>
<path d="M131.6,369.0 L131.6,369.0" stroke="#3a3810" stroke-width="2.9"/>
<path d="M123.9,377.6 L123.9,377.6" stroke="#8c84a4" stroke-width="3.1"/>
<path d="M141.0,381.6 L141.1,381.6" stroke="#8c84a4" stroke-width="3.1"/>
<path d="M150.2,373.9 L150.2,373.9" stroke="#8c84a4" stroke-width="3.1"/>
<path d="M141.0,381.6 L150.2,373.9" stroke="#8c84a4" stroke-width="1.4"/>
<path d="M40.9,366.7 L40.9,367.9" stroke="#8c84a4" stroke-width="3.1"/>
<path d="M33.2,386.7 L45.8,386.7" stroke="#8c84a4" stroke-width="2.9"/>
<path d="M190.0,386.6 L197.9,388.0" stroke="#8c84a4" stroke-width="2.5"/>
<path d="M156.2,388.4 L160.2,388.4" stroke="#8c84a4" stroke-width="2.3"/>
</g></g>
<line x1="14" y1="388" x2="27" y2="388" stroke="#e8e8e8" stroke-width="0.9"/>
</g>
<clipPath id="cl4"><rect x="11.6" y="410.0" width="190.00" height="108.70"/></clipPath>
<g clip-path="url(#cl4)">
<rect x="11.6" y="410.0" width="190.00" height="108.70" fill="#020228"/>
<rect x="11.6" y="410.0" width="190.00" height="108.70" filter="url(#fBlue2)" opacity="0.75"/>
<rect x="11.6" y="410.0" width="190.00" height="108.70" filter="url(#fBlue)" opacity="0.75"/>
<rect x="11.6" y="410.0" width="190.00" height="108.70" filter="url(#fDark)" opacity="1"/>
<g filter="url(#blur4)" fill="#14a8dc">
<ellipse cx="182.5" cy="448.9" rx="25.8" ry="28.6" opacity="0.6"/>
<ellipse cx="25.2" cy="463.2" rx="14.3" ry="14.3" opacity="0.25"/>
<ellipse cx="139.6" cy="483.3" rx="18.6" ry="11.4" opacity="0.35"/>
<ellipse cx="191.1" cy="500.4" rx="14.3" ry="17.2" opacity="0.3"/>
<ellipse cx="82.4" cy="428.9" rx="14.3" ry="11.4" opacity="0.15"/>
</g>
<rect x="11.6" y="410.0" width="190.00" height="108.70" filter="url(#fCyD)" opacity="1"/>
<rect x="11.6" y="410.0" width="190.00" height="108.70" filter="url(#fCy)" opacity="0.8"/>
<defs><mask id="cyx4" maskUnits="userSpaceOnUse" x="0" y="400" width="210" height="125"><g filter="url(#blur2)" fill="#fff"><ellipse cx="179.7" cy="451.8" rx="22.9" ry="25.8"/><ellipse cx="138.2" cy="484.7" rx="14.3" ry="7.4"/><ellipse cx="23.7" cy="467.5" rx="8.6" ry="10.0"/><ellipse cx="191.1" cy="503.3" rx="10.0" ry="12.9"/></g></mask></defs>
<g mask="url(#cyx4)"><rect x="11.6" y="410.0" width="190.00" height="108.70" filter="url(#fCyX)" opacity="0.95"/></g>
<rect x="11.6" y="410.0" width="190.00" height="108.70" filter="url(#fMag)" opacity="0.8"/>
<rect x="11.6" y="410.0" width="190.00" height="108.70" filter="url(#fGr)" opacity="0.8"/>
<g filter="url(#fTex)">
<g fill="none" stroke="#1010a8" stroke-opacity="0.5" stroke-linecap="round" stroke-linejoin="round">
<path d="M27.7,438.9 L29.5,438.9" stroke-width="18.1"/>
<path d="M38.0,433.2 L52.3,436.0" stroke-width="10.0"/>
<path d="M60.9,433.5 L60.9,435.8" stroke-width="12.9"/>
<path d="M53.8,450.9 L53.8,452.6" stroke-width="16.9"/>
<path d="M101.3,423.2 L103.6,423.2" stroke-width="18.6"/>
<path d="M123.9,415.2 L136.8,418.9 L149.6,424.6" stroke-width="12.9"/>
<path d="M116.2,448.1 L116.2,448.6" stroke-width="18.1"/>
<path d="M163.9,448.9 L176.8,443.2 L186.8,434.6" stroke-width="12.3"/>
<path d="M64.9,479.8 L68.4,479.8" stroke-width="11.8"/>
<path d="M32.3,495.6 L32.3,496.7" stroke-width="12.9"/>
<path d="M56.6,495.9 L57.9,510.7" stroke-width="11.8"/>
<path d="M99.0,460.4 L100.1,460.4" stroke-width="9.5"/>
<path d="M132.7,515.3 L140.8,515.3" stroke-width="9.5"/>
<path d="M163.1,515.9 L167.7,515.9" stroke-width="9.5"/>
</g>
<g fill="none" stroke-linecap="round" stroke-linejoin="round">
<path d="M27.7,438.9 L29.5,438.9" stroke="#f4ea34" stroke-width="15.5"/>
<path d="M38.0,433.2 L52.3,436.0" stroke="#e2d224" stroke-width="7.4"/>
<path d="M60.9,433.5 L60.9,435.8" stroke="#e2d224" stroke-width="10.3"/>
<path d="M53.8,450.9 L53.8,452.6" stroke="#e2d224" stroke-width="14.3"/>
<path d="M101.3,423.2 L103.6,423.2" stroke="#e2d224" stroke-width="16.0"/>
<path d="M123.9,415.2 L136.8,418.9 L149.6,424.6" stroke="#e2d224" stroke-width="10.3"/>
<path d="M116.2,448.1 L116.2,448.6" stroke="#e2d224" stroke-width="15.5"/>
<path d="M163.9,448.9 L176.8,443.2 L186.8,434.6" stroke="#e2d224" stroke-width="9.7"/>
<path d="M64.9,479.8 L68.4,479.8" stroke="#e2d224" stroke-width="9.2"/>
<path d="M32.3,495.6 L32.3,496.7" stroke="#e2d224" stroke-width="10.3"/>
<path d="M56.6,495.9 L57.9,510.7" stroke="#e2d224" stroke-width="9.2"/>
<path d="M99.0,460.4 L100.1,460.4" stroke="#e2d224" stroke-width="6.9"/>
<path d="M132.7,515.3 L140.8,515.3" stroke="#e2d224" stroke-width="6.9"/>
<path d="M163.1,515.9 L167.7,515.9" stroke="#e2d224" stroke-width="6.9"/>
<path d="M27.7,438.9 L29.5,438.9" stroke="#dccc5c" stroke-width="11.1"/>
<path d="M38.0,433.2 L52.3,436.0" stroke="#c0a8e4" stroke-width="5.4"/>
<path d="M60.9,433.5 L60.9,435.8" stroke="#d4c45c" stroke-width="6.3"/>
<path d="M53.8,450.9 L53.8,452.6" stroke="#d4c45c" stroke-width="9.9"/>
<path d="M101.3,423.2 L103.6,423.2" stroke="#c0a8e4" stroke-width="12.8"/>
<path d="M123.9,415.2 L136.8,418.9 L149.6,424.6" stroke="#c0a8e4" stroke-width="7.3"/>
<path d="M116.2,448.1 L116.2,448.6" stroke="#ccbc6c" stroke-width="11.5"/>
<path d="M163.9,448.9 L176.8,443.2 L186.8,434.6" stroke="#c8b8e8" stroke-width="7.3"/>
<path d="M64.9,479.8 L68.4,479.8" stroke="#c0a8e4" stroke-width="7.2"/>
<path d="M32.3,495.6 L32.3,496.7" stroke="#d0c060" stroke-width="6.3"/>
<path d="M56.6,495.9 L57.9,510.7" stroke="#c0a8e4" stroke-width="6.6"/>
<path d="M99.0,460.4 L100.1,460.4" stroke="#c0a8e4" stroke-width="4.9"/>
<path d="M132.7,515.3 L140.8,515.3" stroke="#c0a8e4" stroke-width="4.9"/>
<path d="M163.1,515.9 L167.7,515.9" stroke="#b09ccc" stroke-width="4.9"/>
<path d="M28.0,438.9 L29.2,438.9" stroke="#3a3810" stroke-width="2.3"/>
<path d="M38.0,433.2 L52.3,436.0" stroke="#202020" stroke-width="1.7"/>
<path d="M53.8,451.2 L53.8,452.4" stroke="#3a3810" stroke-width="1.7"/>
<path d="M101.6,423.2 L103.2,423.2" stroke="#3a3810" stroke-width="2.9"/>
<path d="M116.2,448.1 L116.2,448.5" stroke="#3a3810" stroke-width="2.3"/>
</g></g>
<g filter="url(#fTexL)">
<g fill="none" stroke="#1010a8" stroke-opacity="0.5" stroke-linecap="round" stroke-linejoin="round">
<path d="M146.9,452.5 L149.5,462.5" stroke-width="18.6"/>
<path d="M189.8,428.5 L187.9,433.9" stroke-width="17.5"/>
<path d="M181.1,464.2 L186.8,465.2" stroke-width="18.6"/>
<path d="M174.0,497.6 L174.0,497.6" stroke-width="26.6"/>
<path d="M167.1,497.0 L180.2,498.1" stroke-width="6.9"/>
<path d="M97.1,485.9 L99.2,500.6" stroke-width="19.8"/>
</g>
<g fill="none" stroke-linecap="round" stroke-linejoin="round">
<path d="M146.9,452.5 L149.5,462.5" stroke="#f4ea34" stroke-width="16.0"/>
<path d="M189.8,428.5 L187.9,433.9" stroke="#f4ea34" stroke-width="14.9"/>
<path d="M181.1,464.2 L186.8,465.2" stroke="#f6f090" stroke-width="16.0"/>
<path d="M174.0,497.6 L174.0,497.6" stroke="#f4ea34" stroke-width="24.0"/>
<path d="M167.1,497.0 L180.2,498.1" stroke="#ece040" stroke-width="4.3"/>
<path d="M97.1,485.9 L99.2,500.6" stroke="#e2d224" stroke-width="17.2"/>
<path d="M146.9,452.5 L149.5,462.5" stroke="#dcd070" stroke-width="11.2"/>
<path d="M189.8,428.5 L187.9,433.9" stroke="#f0e850" stroke-width="8.9"/>
<path d="M181.1,464.2 L186.8,465.2" stroke="#f4f0a0" stroke-width="10.0"/>
<path d="M174.0,497.6 L174.0,497.6" stroke="#ece040" stroke-width="17.0"/>
<path d="M167.1,497.0 L180.2,498.1" stroke="#ece040" stroke-width="2.3"/>
<path d="M97.1,485.9 L99.2,500.6" stroke="#d8cc80" stroke-width="12.8"/>
<path d="M147.3,454.0 L149.1,461.0" stroke="#05050a" stroke-width="3.7"/>
<path d="M189.5,429.3 L188.1,433.1" stroke="#05050a" stroke-width="3.1"/>
<path d="M182.0,464.3 L185.9,465.0" stroke="#05050a" stroke-width="4.9"/>
<path d="M167.1,497.0 L180.2,498.1" stroke="#05050a" stroke-width="4.3"/>
<path d="M97.4,488.1 L98.9,498.4" stroke="#05050a" stroke-width="4.3"/>
</g></g>
<line x1="16" y1="514.6" x2="33" y2="514.6" stroke="#e8e8e8" stroke-width="0.9"/>
</g>
<clipPath id="cl5"><rect x="11.6" y="534.2" width="190.00" height="108.40"/></clipPath>
<g clip-path="url(#cl5)">
<rect x="11.6" y="534.2" width="190.00" height="108.40" fill="#020228"/>
<rect x="11.6" y="534.2" width="190.00" height="108.40" filter="url(#fBlue2)" opacity="0.75"/>
<rect x="11.6" y="534.2" width="190.00" height="108.40" filter="url(#fBlue)" opacity="0.75"/>
<rect x="11.6" y="534.2" width="190.00" height="108.40" filter="url(#fDark)" opacity="1"/>
<g filter="url(#blur4)" fill="#10a0d8">
<ellipse cx="102.4" cy="584.4" rx="20.0" ry="14.3" opacity="0.3"/>
<ellipse cx="185.4" cy="572.9" rx="17.2" ry="17.2" opacity="0.28"/>
<ellipse cx="50.9" cy="564.3" rx="17.2" ry="11.4" opacity="0.22"/>
<ellipse cx="145.3" cy="595.8" rx="17.2" ry="11.4" opacity="0.22"/>
<ellipse cx="79.5" cy="624.4" rx="14.3" ry="8.6" opacity="0.22"/>
</g>
<g filter="url(#blur2)" fill="#000">
<ellipse cx="168.2" cy="642.2" rx="42.9" ry="6.9" opacity="0.85"/>
<ellipse cx="79.5" cy="643.0" rx="34.3" ry="4.0" opacity="0.5"/>
</g>
<rect x="11.6" y="534.2" width="190.00" height="108.40" filter="url(#fCyD)" opacity="0.9"/>
<rect x="11.6" y="534.2" width="190.00" height="108.40" filter="url(#fMag)" opacity="0.45"/>
<rect x="11.6" y="534.2" width="190.00" height="108.40" filter="url(#fGr)" opacity="0.5"/>
<g filter="url(#fTexL)">
<g fill="none" stroke="#1010a8" stroke-opacity="0.5" stroke-linecap="round" stroke-linejoin="round">
<path d="M26.6,546.9 L26.6,550.3" stroke-width="12.4"/>
<path d="M41.5,538.9 L46.1,546.8" stroke-width="9.2"/>
<path d="M57.2,540.9 L62.9,546.6 L70.4,542.0" stroke-width="11.1"/>
<path d="M62.9,546.6 L61.2,553.5" stroke-width="11.1"/>
<path d="M55.2,583.8 L69.5,575.8 L83.0,564.3 L88.7,551.5" stroke-width="17.6"/>
<path d="M111.0,548.3 L111.0,551.7" stroke-width="12.4"/>
<path d="M124.7,538.0 L131.0,547.7 L133.9,558.6 L135.0,568.6" stroke-width="8.9"/>
<path d="M135.6,573.5 L136.8,573.5" stroke-width="13.1"/>
<path d="M146.8,541.4 L146.8,541.4" stroke-width="13.7"/>
<path d="M164.5,551.7 L164.5,554.0" stroke-width="11.1"/>
<path d="M182.9,557.8 L182.1,562.3" stroke-width="15.0"/>
<path d="M199.0,550.4 L197.6,558.3" stroke-width="10.5"/>
<path d="M151.1,565.2 L151.1,568.1" stroke-width="11.8"/>
<path d="M23.7,580.9 L23.7,580.9" stroke-width="15.0"/>
<path d="M31.5,572.9 L31.5,572.9" stroke-width="14.4"/>
<path d="M38.9,580.9 L38.9,582.1" stroke-width="9.9"/>
<path d="M105.3,571.5 L105.3,573.2" stroke-width="11.1"/>
<path d="M116.2,580.9 L116.2,584.9" stroke-width="13.1"/>
<path d="M170.8,579.7 L168.5,586.2" stroke-width="15.0"/>
<path d="M182.5,582.1 L182.5,589.5" stroke-width="13.1"/>
<path d="M100.1,584.4 L102.4,601.5 L99.0,621.6" stroke-width="10.5"/>
<path d="M79.8,592.4 L82.1,596.4" stroke-width="14.4"/>
<path d="M83.8,605.8 L83.8,605.8" stroke-width="9.2"/>
<path d="M19.4,601.5 L19.5,601.5" stroke-width="14.4"/>
<path d="M33.2,601.5 L33.2,601.5" stroke-width="14.4"/>
<path d="M19.4,601.5 L33.2,601.5" stroke-width="7.3"/>
<path d="M123.4,605.0 L122.6,609.5" stroke-width="17.6"/>
<path d="M138.2,613.3 L138.2,615.6" stroke-width="15.0"/>
<path d="M154.5,619.3 L163.9,615.0 L174.5,610.1" stroke-width="13.1"/>
<path d="M154.5,619.3 L161.1,616.4" stroke-width="13.1"/>
<path d="M182.5,623.8 L182.5,625.0" stroke-width="16.3"/>
<path d="M192.5,614.4 L192.5,614.4" stroke-width="13.1"/>
<path d="M44.6,615.3 L44.6,619.3" stroke-width="13.1"/>
<path d="M41.8,626.7 L41.8,626.7" stroke-width="9.9"/>
<path d="M66.7,610.1 L66.7,610.1" stroke-width="9.9"/>
<path d="M66.7,626.4 L66.7,628.1" stroke-width="11.1"/>
<path d="M18.0,625.9 L26.6,627.3" stroke-width="20.1"/>
<path d="M88.7,626.4 L88.7,633.9" stroke-width="11.1"/>
<path d="M111.6,621.0 L111.6,633.6" stroke-width="15.0"/>
<path d="M199.7,625.3 L199.7,629.3" stroke-width="8.6"/>
</g>
<g fill="none" stroke-linecap="round" stroke-linejoin="round">
<path d="M26.6,546.9 L26.6,550.3" stroke="#ece028" stroke-width="9.8"/>
<path d="M41.5,538.9 L46.1,546.8" stroke="#ece028" stroke-width="6.6"/>
<path d="M57.2,540.9 L62.9,546.6 L70.4,542.0" stroke="#ece028" stroke-width="8.5"/>
<path d="M62.9,546.6 L61.2,553.5" stroke="#ece028" stroke-width="8.5"/>
<path d="M55.2,583.8 L69.5,575.8 L83.0,564.3 L88.7,551.5" stroke="#ece028" stroke-width="15.0"/>
<path d="M111.0,548.3 L111.0,551.7" stroke="#ece028" stroke-width="9.8"/>
<path d="M124.7,538.0 L131.0,547.7 L133.9,558.6 L135.0,568.6" stroke="#e2d224" stroke-width="6.3"/>
<path d="M135.6,573.5 L136.8,573.5" stroke="#ece028" stroke-width="10.5"/>
<path d="M146.8,541.4 L146.8,541.4" stroke="#ece028" stroke-width="11.1"/>
<path d="M164.5,551.7 L164.5,554.0" stroke="#ece028" stroke-width="8.5"/>
<path d="M182.9,557.8 L182.1,562.3" stroke="#ece028" stroke-width="12.4"/>
<path d="M199.0,550.4 L197.6,558.3" stroke="#ece028" stroke-width="7.9"/>
<path d="M151.1,565.2 L151.1,568.1" stroke="#ece028" stroke-width="9.2"/>
<path d="M23.7,580.9 L23.7,580.9" stroke="#ece028" stroke-width="12.4"/>
<path d="M31.5,572.9 L31.5,572.9" stroke="#ece028" stroke-width="11.8"/>
<path d="M38.9,580.9 L38.9,582.1" stroke="#ece028" stroke-width="7.3"/>
<path d="M105.3,571.5 L105.3,573.2" stroke="#ece028" stroke-width="8.5"/>
<path d="M116.2,580.9 L116.2,584.9" stroke="#ece028" stroke-width="10.5"/>
<path d="M170.8,579.7 L168.5,586.2" stroke="#ece028" stroke-width="12.4"/>
<path d="M182.5,582.1 L182.5,589.5" stroke="#ece028" stroke-width="10.5"/>
<path d="M100.1,584.4 L102.4,601.5 L99.0,621.6" stroke="#e2d224" stroke-width="7.9"/>
<path d="M79.8,592.4 L82.1,596.4" stroke="#ece028" stroke-width="11.8"/>
<path d="M83.8,605.8 L83.8,605.8" stroke="#ece028" stroke-width="6.6"/>
<path d="M19.4,601.5 L19.5,601.5" stroke="#ece028" stroke-width="11.8"/>
<path d="M33.2,601.5 L33.2,601.5" stroke="#ece028" stroke-width="11.8"/>
<path d="M19.4,601.5 L33.2,601.5" stroke="#e2d224" stroke-width="4.7"/>
<path d="M123.4,605.0 L122.6,609.5" stroke="#ece028" stroke-width="15.0"/>
<path d="M138.2,613.3 L138.2,615.6" stroke="#ece028" stroke-width="12.4"/>
<path d="M154.5,619.3 L163.9,615.0 L174.5,610.1" stroke="#ece028" stroke-width="10.5"/>
<path d="M154.5,619.3 L161.1,616.4" stroke="#ece028" stroke-width="10.5"/>
<path d="M182.5,623.8 L182.5,625.0" stroke="#ece028" stroke-width="13.7"/>
<path d="M192.5,614.4 L192.5,614.4" stroke="#ece028" stroke-width="10.5"/>
<path d="M44.6,615.3 L44.6,619.3" stroke="#ece028" stroke-width="10.5"/>
<path d="M41.8,626.7 L41.8,626.7" stroke="#ece028" stroke-width="7.3"/>
<path d="M66.7,610.1 L66.7,610.1" stroke="#ece028" stroke-width="7.3"/>
<path d="M66.7,626.4 L66.7,628.1" stroke="#ece028" stroke-width="8.5"/>
<path d="M18.0,625.9 L26.6,627.3" stroke="#ece028" stroke-width="17.5"/>
<path d="M88.7,626.4 L88.7,633.9" stroke="#ece028" stroke-width="8.5"/>
<path d="M111.6,621.0 L111.6,633.6" stroke="#ece028" stroke-width="12.4"/>
<path d="M199.7,625.3 L199.7,629.3" stroke="#ece028" stroke-width="6.0"/>
<path d="M26.6,546.9 L26.6,550.3" stroke="#d6ca62" stroke-width="8.2"/>
<path d="M41.5,538.9 L46.1,546.8" stroke="#d6ca62" stroke-width="5.0"/>
<path d="M57.2,540.9 L62.9,546.6 L70.4,542.0" stroke="#d6ca62" stroke-width="6.9"/>
<path d="M62.9,546.6 L61.2,553.5" stroke="#d6ca62" stroke-width="6.9"/>
<path d="M55.2,583.8 L69.5,575.8 L83.0,564.3 L88.7,551.5" stroke="#b0a6dc" stroke-width="10.0"/>
<path d="M111.0,548.3 L111.0,551.7" stroke="#d6ca62" stroke-width="8.2"/>
<path d="M124.7,538.0 L131.0,547.7 L133.9,558.6 L135.0,568.6" stroke="#b0a8e0" stroke-width="3.9"/>
<path d="M135.6,573.5 L136.8,573.5" stroke="#d6ca62" stroke-width="8.9"/>
<path d="M146.8,541.4 L146.8,541.4" stroke="#d6ca62" stroke-width="9.5"/>
<path d="M164.5,551.7 L164.5,554.0" stroke="#d6ca62" stroke-width="6.9"/>
<path d="M182.9,557.8 L182.1,562.3" stroke="#d6ca62" stroke-width="10.8"/>
<path d="M199.0,550.4 L197.6,558.3" stroke="#d6ca62" stroke-width="6.3"/>
<path d="M151.1,565.2 L151.1,568.1" stroke="#d6ca62" stroke-width="7.6"/>
<path d="M23.7,580.9 L23.7,580.9" stroke="#d6ca62" stroke-width="10.8"/>
<path d="M31.5,572.9 L31.5,572.9" stroke="#d6ca62" stroke-width="10.2"/>
<path d="M38.9,580.9 L38.9,582.1" stroke="#d6ca62" stroke-width="5.7"/>
<path d="M105.3,571.5 L105.3,573.2" stroke="#d6ca62" stroke-width="6.9"/>
<path d="M116.2,580.9 L116.2,584.9" stroke="#d6ca62" stroke-width="8.9"/>
<path d="M170.8,579.7 L168.5,586.2" stroke="#d6ca62" stroke-width="10.8"/>
<path d="M182.5,582.1 L182.5,589.5" stroke="#d6ca62" stroke-width="8.9"/>
<path d="M100.1,584.4 L102.4,601.5 L99.0,621.6" stroke="#b8b0e4" stroke-width="5.9"/>
<path d="M79.8,592.4 L82.1,596.4" stroke="#d6ca62" stroke-width="10.2"/>
<path d="M83.8,605.8 L83.8,605.8" stroke="#d6ca62" stroke-width="5.0"/>
<path d="M19.4,601.5 L19.5,601.5" stroke="#d6ca62" stroke-width="10.2"/>
<path d="M33.2,601.5 L33.2,601.5" stroke="#d6ca62" stroke-width="10.2"/>
<path d="M19.4,601.5 L33.2,601.5" stroke="#d6ca62" stroke-width="3.1"/>
<path d="M123.4,605.0 L122.6,609.5" stroke="#d6ca62" stroke-width="13.4"/>
<path d="M138.2,613.3 L138.2,615.6" stroke="#d6ca62" stroke-width="10.8"/>
<path d="M154.5,619.3 L163.9,615.0 L174.5,610.1" stroke="#c4bc90" stroke-width="7.3"/>
<path d="M154.5,619.3 L161.1,616.4" stroke="#d6ca62" stroke-width="8.5"/>
<path d="M182.5,623.8 L182.5,625.0" stroke="#d6ca62" stroke-width="12.1"/>
<path d="M192.5,614.4 L192.5,614.4" stroke="#d6ca62" stroke-width="8.9"/>
<path d="M44.6,615.3 L44.6,619.3" stroke="#d6ca62" stroke-width="8.9"/>
<path d="M41.8,626.7 L41.8,626.7" stroke="#d6ca62" stroke-width="5.7"/>
<path d="M66.7,610.1 L66.7,610.1" stroke="#d6ca62" stroke-width="5.7"/>
<path d="M66.7,626.4 L66.7,628.1" stroke="#d6ca62" stroke-width="6.9"/>
<path d="M18.0,625.9 L26.6,627.3" stroke="#d6ca62" stroke-width="15.9"/>
<path d="M88.7,626.4 L88.7,633.9" stroke="#d6ca62" stroke-width="6.9"/>
<path d="M111.6,621.0 L111.6,633.6" stroke="#d6ca62" stroke-width="10.8"/>
<path d="M199.7,625.3 L199.7,629.3" stroke="#d6ca62" stroke-width="4.4"/>
<path d="M26.6,547.4 L26.6,549.8" stroke="#06060a" stroke-width="3.7"/>
<path d="M42.2,540.1 L45.4,545.7" stroke="#06060a" stroke-width="2.5"/>
<path d="M57.2,540.9 L62.9,546.6 L70.4,542.0" stroke="#06060a" stroke-width="3.2"/>
<path d="M62.9,546.6 L61.2,553.5" stroke="#06060a" stroke-width="3.2"/>
<path d="M59.5,581.5 L69.5,575.8 L81.0,565.8" stroke="#06060a" stroke-width="3.1"/>
<path d="M111.0,548.8 L111.0,551.2" stroke="#06060a" stroke-width="3.7"/>
<path d="M135.8,573.5 L136.6,573.5" stroke="#06060a" stroke-width="4.0"/>
<path d="M146.8,541.4 L146.8,541.4" stroke="#06060a" stroke-width="4.2"/>
<path d="M164.5,552.1 L164.5,553.7" stroke="#06060a" stroke-width="3.2"/>
<path d="M182.8,558.5 L182.3,561.6" stroke="#06060a" stroke-width="4.7"/>
<path d="M198.8,551.6 L197.8,557.1" stroke="#06060a" stroke-width="3.0"/>
<path d="M151.1,565.6 L151.1,567.6" stroke="#06060a" stroke-width="3.5"/>
<path d="M23.7,580.9 L23.7,580.9" stroke="#06060a" stroke-width="4.7"/>
<path d="M31.5,572.9 L31.5,572.9" stroke="#06060a" stroke-width="4.5"/>
<path d="M38.9,580.9 L38.9,582.1" stroke="#06060a" stroke-width="2.8"/>
<path d="M105.3,571.7 L105.3,572.9" stroke="#06060a" stroke-width="3.2"/>
<path d="M116.2,581.5 L116.2,584.3" stroke="#06060a" stroke-width="4.0"/>
<path d="M170.5,580.7 L168.8,585.2" stroke="#06060a" stroke-width="4.7"/>
<path d="M182.5,583.2 L182.5,588.4" stroke="#06060a" stroke-width="4.0"/>
<path d="M80.2,593.0 L81.8,595.8" stroke="#06060a" stroke-width="4.5"/>
<path d="M83.8,605.8 L83.8,605.8" stroke="#06060a" stroke-width="2.5"/>
<path d="M19.4,601.5 L19.5,601.5" stroke="#06060a" stroke-width="4.5"/>
<path d="M33.2,601.5 L33.2,601.5" stroke="#06060a" stroke-width="4.5"/>
<path d="M123.3,605.7 L122.7,608.8" stroke="#06060a" stroke-width="5.7"/>
<path d="M138.2,613.6 L138.2,615.2" stroke="#06060a" stroke-width="4.7"/>
<path d="M154.5,619.3 L161.1,616.4" stroke="#06060a" stroke-width="4.0"/>
<path d="M182.5,624.0 L182.5,624.8" stroke="#06060a" stroke-width="5.2"/>
<path d="M192.5,614.4 L192.5,614.4" stroke="#06060a" stroke-width="4.0"/>
<path d="M44.6,615.9 L44.6,618.7" stroke="#06060a" stroke-width="4.0"/>
<path d="M41.8,626.7 L41.8,626.7" stroke="#06060a" stroke-width="2.8"/>
<path d="M66.7,610.1 L66.7,610.1" stroke="#06060a" stroke-width="2.8"/>
<path d="M66.7,626.7 L66.7,627.9" stroke="#06060a" stroke-width="3.2"/>
<path d="M18.0,625.9 L26.6,627.3" stroke="#06060a" stroke-width="6.7"/>
<path d="M88.7,627.5 L88.7,632.7" stroke="#06060a" stroke-width="3.2"/>
<path d="M111.6,622.9 L111.6,631.7" stroke="#06060a" stroke-width="4.7"/>
<path d="M199.7,625.3 L199.7,629.3" stroke="#06060a" stroke-width="2.3"/>
</g></g>
<line x1="15" y1="638.6" x2="29" y2="638.6" stroke="#e8e8e8" stroke-width="0.9"/>
</g>
<rect x="11.6" y="642.4" width="190" height="14.7" fill="#000"/>
<text x="14.8" y="653.7" font-size="10" fill="#1818f0">DAPI</text>
<text x="49.8" y="653.7" font-size="10" fill="#10cc10">CD45</text>
<text x="89.9" y="653.7" font-size="10" fill="#e4e410">EPCAM</text>
<text x="140.6" y="653.7" font-size="10" fill="#e040d0">Ki67</text>
<text x="173" y="653.7" font-size="10" fill="#30c8c0">CD34</text>
<text x="573.50" y="442.20" font-size="12.15" text-anchor="middle" >Proliferation in airway regions</text>
<path d="M488.50,479.10 L488.00,490.00 L487.20,500.90 L486.30,510.00 L485.10,519.90 L482.90,530.00 L480.50,538.90 L478.20,545.00 L474.90,551.00 L473.10,556.00 L472.10,560.00 L471.60,565.40 L471.80,570.00 L472.60,575.00 L473.90,580.00 L475.20,584.10 L476.70,590.00 L478.10,595.20 L479.80,600.00 L481.90,606.20 L483.60,612.00 L484.90,617.20 L486.00,623.00 L486.70,628.30 L487.40,634.00 L487.90,639.30 L488.50,643.40 L488.50,643.40 L489.10,639.30 L489.60,634.00 L490.30,628.30 L491.00,623.00 L492.10,617.20 L493.40,612.00 L495.10,606.20 L497.20,600.00 L498.90,595.20 L500.30,590.00 L501.80,584.10 L503.10,580.00 L504.40,575.00 L505.20,570.00 L505.40,565.40 L504.90,560.00 L503.90,556.00 L502.10,551.00 L498.80,545.00 L496.50,538.90 L494.10,530.00 L491.90,519.90 L490.70,510.00 L489.80,500.90 L489.00,490.00 L488.50,479.10Z" fill="#ffa500" stroke="#3a3a3a" stroke-width="0.7" stroke-linejoin="round"/>
<path d="M539.60,510.00 L538.70,514.00 L537.90,519.90 L537.50,530.00 L537.40,540.00 L537.20,551.00 L536.90,557.30 L536.40,562.00 L535.60,566.00 L533.80,570.00 L530.50,574.60 L528.00,579.00 L526.10,583.30 L524.80,587.50 L523.90,591.90 L523.50,596.00 L523.40,600.60 L523.60,605.00 L524.00,609.20 L524.40,613.50 L524.90,617.90 L525.80,622.00 L527.10,626.50 L529.10,631.00 L531.40,635.20 L533.70,639.50 L535.70,643.80 L537.30,648.00 L538.50,652.50 L539.60,656.30 L539.60,656.30 L540.70,652.50 L541.90,648.00 L543.50,643.80 L545.50,639.50 L547.80,635.20 L550.10,631.00 L552.10,626.50 L553.40,622.00 L554.30,617.90 L554.80,613.50 L555.20,609.20 L555.60,605.00 L555.80,600.60 L555.70,596.00 L555.30,591.90 L554.40,587.50 L553.10,583.30 L551.20,579.00 L548.70,574.60 L545.40,570.00 L543.60,566.00 L542.80,562.00 L542.30,557.30 L542.00,551.00 L541.80,540.00 L541.70,530.00 L541.30,519.90 L540.50,514.00 L539.60,510.00Z" fill="#3cc3cb" stroke="#3a3a3a" stroke-width="0.7" stroke-linejoin="round"/>
<path d="M625.10,580.07 L625.94,582.09 L627.11,584.44 L628.79,586.62 L631.31,588.47 L634.67,590.98 L636.85,593.17 L638.03,595.18 L638.53,597.36 L638.53,599.38 L637.69,601.56 L636.35,603.57 L635.34,604.92 L635.17,606.09 L635.68,607.60 L637.19,608.95 L640.54,610.79 L645.58,612.81 L651.46,614.49 L657.33,616.16 L663.21,617.51 L669.08,619.02 L671.77,619.69 L672.78,620.36 L671.77,621.20 L669.08,622.88 L663.21,624.89 L657.33,626.74 L651.46,628.42 L645.58,630.10 L640.54,631.61 L635.51,633.45 L631.31,635.30 L627.95,637.15 L626.28,638.32 L625.10,639.33 L625.10,639.33 L623.92,638.32 L622.25,637.15 L618.89,635.30 L614.69,633.45 L609.66,631.61 L604.62,630.10 L598.74,628.42 L592.87,626.74 L586.99,624.89 L581.12,622.88 L578.43,621.20 L577.42,620.36 L578.43,619.69 L581.12,619.02 L586.99,617.51 L592.87,616.16 L598.74,614.49 L604.62,612.81 L609.66,610.79 L613.01,608.95 L614.52,607.60 L615.03,606.09 L614.86,604.92 L613.85,603.57 L612.51,601.56 L611.67,599.38 L611.67,597.36 L612.17,595.18 L613.35,593.17 L615.53,590.98 L618.89,588.47 L621.41,586.62 L623.09,584.44 L624.26,582.09 L625.10,580.07Z" fill="#cb2c80" stroke="#3a3a3a" stroke-width="0.7" stroke-linejoin="round"/>
<circle cx="490.2" cy="500.5" r="1.3" fill="#000"/>
<circle cx="495.4" cy="515.8" r="1.3" fill="#000"/>
<circle cx="493.1" cy="519.8" r="1.3" fill="#000"/>
<circle cx="491.6" cy="522.1" r="1.3" fill="#000"/>
<circle cx="498.3" cy="523.3" r="1.3" fill="#000"/>
<circle cx="482.6" cy="534.6" r="1.3" fill="#000"/>
<circle cx="487.5" cy="533.1" r="1.3" fill="#000"/>
<circle cx="486.4" cy="534.8" r="1.3" fill="#000"/>
<circle cx="489.2" cy="535.6" r="1.3" fill="#000"/>
<circle cx="487.9" cy="537.4" r="1.3" fill="#000"/>
<circle cx="496.4" cy="534.8" r="1.3" fill="#000"/>
<circle cx="497.3" cy="536.6" r="1.3" fill="#000"/>
<circle cx="498.7" cy="540.0" r="1.3" fill="#000"/>
<circle cx="484.1" cy="547.9" r="1.3" fill="#000"/>
<circle cx="486.9" cy="550.4" r="1.3" fill="#000"/>
<circle cx="477.1" cy="554.5" r="1.3" fill="#000"/>
<circle cx="480.0" cy="553.9" r="1.3" fill="#000"/>
<circle cx="485.2" cy="554.1" r="1.3" fill="#000"/>
<circle cx="489.5" cy="553.9" r="1.3" fill="#000"/>
<circle cx="490.4" cy="556.2" r="1.3" fill="#000"/>
<circle cx="481.7" cy="557.9" r="1.3" fill="#000"/>
<circle cx="483.5" cy="559.1" r="1.3" fill="#000"/>
<circle cx="486.9" cy="560.2" r="1.3" fill="#000"/>
<circle cx="493.9" cy="558.7" r="1.3" fill="#000"/>
<circle cx="496.4" cy="556.4" r="1.3" fill="#000"/>
<circle cx="476.5" cy="563.4" r="1.3" fill="#000"/>
<circle cx="479.8" cy="565.4" r="1.3" fill="#000"/>
<circle cx="484.1" cy="564.1" r="1.3" fill="#000"/>
<circle cx="490.2" cy="564.3" r="1.3" fill="#000"/>
<circle cx="495.9" cy="563.1" r="1.3" fill="#000"/>
<circle cx="497.9" cy="561.7" r="1.3" fill="#000"/>
<circle cx="500.0" cy="565.4" r="1.3" fill="#000"/>
<circle cx="492.7" cy="568.9" r="1.3" fill="#000"/>
<circle cx="485.2" cy="568.9" r="1.3" fill="#000"/>
<circle cx="477.1" cy="571.8" r="1.3" fill="#000"/>
<circle cx="482.3" cy="571.2" r="1.3" fill="#000"/>
<circle cx="494.4" cy="572.4" r="1.3" fill="#000"/>
<circle cx="480.0" cy="574.1" r="1.3" fill="#000"/>
<circle cx="484.1" cy="574.2" r="1.3" fill="#000"/>
<circle cx="491.6" cy="576.0" r="1.3" fill="#000"/>
<circle cx="485.8" cy="578.3" r="1.3" fill="#000"/>
<circle cx="494.4" cy="581.7" r="1.3" fill="#000"/>
<circle cx="496.8" cy="582.9" r="1.3" fill="#000"/>
<circle cx="477.1" cy="586.7" r="1.3" fill="#000"/>
<circle cx="479.4" cy="587.5" r="1.3" fill="#000"/>
<circle cx="482.1" cy="588.7" r="1.3" fill="#000"/>
<circle cx="490.6" cy="586.7" r="1.3" fill="#000"/>
<circle cx="493.9" cy="589.8" r="1.3" fill="#000"/>
<circle cx="496.8" cy="588.7" r="1.3" fill="#000"/>
<circle cx="484.6" cy="593.1" r="1.3" fill="#000"/>
<circle cx="486.4" cy="594.8" r="1.3" fill="#000"/>
<circle cx="483.5" cy="596.8" r="1.3" fill="#000"/>
<circle cx="487.5" cy="598.3" r="1.3" fill="#000"/>
<circle cx="477.9" cy="597.9" r="1.3" fill="#000"/>
<circle cx="480.0" cy="598.7" r="1.3" fill="#000"/>
<circle cx="479.8" cy="600.8" r="1.3" fill="#000"/>
<circle cx="478.3" cy="604.8" r="1.3" fill="#000"/>
<circle cx="479.1" cy="610.4" r="1.3" fill="#000"/>
<circle cx="492.7" cy="612.0" r="1.3" fill="#000"/>
<circle cx="479.8" cy="618.3" r="1.3" fill="#000"/>
<circle cx="482.6" cy="618.9" r="1.3" fill="#000"/>
<circle cx="495.0" cy="621.9" r="1.3" fill="#000"/>
<circle cx="537.2" cy="534.7" r="1.3" fill="#000"/>
<circle cx="547.8" cy="534.3" r="1.3" fill="#000"/>
<circle cx="550.5" cy="557.0" r="1.3" fill="#000"/>
<circle cx="530.2" cy="578.4" r="1.3" fill="#000"/>
<circle cx="550.5" cy="581.0" r="1.3" fill="#000"/>
<circle cx="530.2" cy="585.8" r="1.3" fill="#000"/>
<circle cx="528.0" cy="588.8" r="1.3" fill="#000"/>
<circle cx="538.4" cy="586.7" r="1.3" fill="#000"/>
<circle cx="547.0" cy="584.6" r="1.3" fill="#000"/>
<circle cx="546.1" cy="587.6" r="1.3" fill="#000"/>
<circle cx="548.7" cy="590.2" r="1.3" fill="#000"/>
<circle cx="550.1" cy="594.0" r="1.3" fill="#000"/>
<circle cx="545.3" cy="595.0" r="1.3" fill="#000"/>
<circle cx="542.7" cy="596.6" r="1.3" fill="#000"/>
<circle cx="537.5" cy="596.2" r="1.3" fill="#000"/>
<circle cx="527.5" cy="598.8" r="1.3" fill="#000"/>
<circle cx="530.2" cy="602.3" r="1.3" fill="#000"/>
<circle cx="534.0" cy="604.0" r="1.3" fill="#000"/>
<circle cx="531.4" cy="608.3" r="1.3" fill="#000"/>
<circle cx="550.1" cy="600.9" r="1.3" fill="#000"/>
<circle cx="535.8" cy="612.7" r="1.3" fill="#000"/>
<circle cx="529.2" cy="614.9" r="1.3" fill="#000"/>
<circle cx="531.8" cy="614.9" r="1.3" fill="#000"/>
<circle cx="544.8" cy="618.7" r="1.3" fill="#000"/>
<circle cx="545.3" cy="621.0" r="1.3" fill="#000"/>
<circle cx="544.8" cy="623.0" r="1.3" fill="#000"/>
<circle cx="549.6" cy="620.1" r="1.3" fill="#000"/>
<circle cx="551.7" cy="620.8" r="1.3" fill="#000"/>
<circle cx="530.9" cy="621.7" r="1.3" fill="#000"/>
<circle cx="544.8" cy="628.2" r="1.3" fill="#000"/>
<circle cx="548.7" cy="629.6" r="1.3" fill="#000"/>
<circle cx="540.1" cy="630.5" r="1.3" fill="#000"/>
<circle cx="535.4" cy="632.2" r="1.3" fill="#000"/>
<circle cx="530.2" cy="632.2" r="1.3" fill="#000"/>
<circle cx="622.0" cy="591.3" r="1.3" fill="#000"/>
<circle cx="628.3" cy="594.7" r="1.3" fill="#000"/>
<circle cx="636.6" cy="594.0" r="1.3" fill="#000"/>
<circle cx="616.2" cy="596.4" r="1.3" fill="#000"/>
<circle cx="635.1" cy="600.7" r="1.3" fill="#000"/>
<circle cx="627.1" cy="601.6" r="1.3" fill="#000"/>
<circle cx="631.8" cy="607.3" r="1.3" fill="#000"/>
<circle cx="619.9" cy="610.8" r="1.3" fill="#000"/>
<circle cx="612.0" cy="619.2" r="1.3" fill="#000"/>
<circle cx="614.5" cy="619.9" r="1.3" fill="#000"/>
<circle cx="617.5" cy="619.2" r="1.3" fill="#000"/>
<circle cx="620.4" cy="617.5" r="1.3" fill="#000"/>
<circle cx="620.4" cy="620.9" r="1.3" fill="#000"/>
<circle cx="627.9" cy="620.0" r="1.3" fill="#000"/>
<circle cx="629.1" cy="617.5" r="1.3" fill="#000"/>
<circle cx="632.1" cy="617.8" r="1.3" fill="#000"/>
<circle cx="634.6" cy="619.0" r="1.3" fill="#000"/>
<circle cx="637.1" cy="619.9" r="1.3" fill="#000"/>
<circle cx="616.7" cy="623.4" r="1.3" fill="#000"/>
<circle cx="613.3" cy="625.4" r="1.3" fill="#000"/>
<circle cx="615.8" cy="625.1" r="1.3" fill="#000"/>
<circle cx="622.9" cy="624.1" r="1.3" fill="#000"/>
<circle cx="625.9" cy="623.7" r="1.3" fill="#000"/>
<circle cx="628.4" cy="622.5" r="1.3" fill="#000"/>
<circle cx="631.3" cy="621.2" r="1.3" fill="#000"/>
<circle cx="633.0" cy="622.5" r="1.3" fill="#000"/>
<circle cx="634.3" cy="624.1" r="1.3" fill="#000"/>
<circle cx="630.1" cy="626.7" r="1.3" fill="#000"/>
<circle cx="621.5" cy="628.3" r="1.3" fill="#000"/>
<line x1="488.60" y1="562.00" x2="488.60" y2="574.20" stroke="#fff" stroke-width="0.8"/>
<line x1="486.40" y1="562.00" x2="490.80" y2="562.00" stroke="#fff" stroke-width="0.8"/>
<line x1="486.40" y1="574.20" x2="490.80" y2="574.20" stroke="#fff" stroke-width="0.8"/>
<circle cx="488.6" cy="568.2" r="1.5" fill="#fff"/>
<line x1="539.30" y1="594.50" x2="539.30" y2="606.20" stroke="#fff" stroke-width="0.8"/>
<line x1="537.10" y1="594.50" x2="541.50" y2="594.50" stroke="#fff" stroke-width="0.8"/>
<line x1="537.10" y1="606.20" x2="541.50" y2="606.20" stroke="#fff" stroke-width="0.8"/>
<circle cx="539.3" cy="600.3" r="1.5" fill="#fff"/>
<line x1="625.10" y1="613.30" x2="625.10" y2="618.20" stroke="#fff" stroke-width="0.8"/>
<line x1="622.90" y1="613.30" x2="627.30" y2="613.30" stroke="#fff" stroke-width="0.8"/>
<line x1="622.90" y1="618.20" x2="627.30" y2="618.20" stroke="#fff" stroke-width="0.8"/>
<circle cx="625.1" cy="615.7" r="1.5" fill="#fff"/>
<rect x="456.7" y="448.2" width="227.50" height="216.90" fill="none" stroke="#000" stroke-width="0.8"/>
<line x1="454.30" y1="632.00" x2="456.70" y2="632.00" stroke="#000" stroke-width="0.8"/>
<text x="453.80" y="635.30" font-size="9.4" text-anchor="end" >0</text>
<line x1="454.30" y1="602.60" x2="456.70" y2="602.60" stroke="#000" stroke-width="0.8"/>
<text x="453.80" y="605.90" font-size="9.4" text-anchor="end" >10</text>
<line x1="454.30" y1="573.20" x2="456.70" y2="573.20" stroke="#000" stroke-width="0.8"/>
<text x="453.80" y="576.50" font-size="9.4" text-anchor="end" >20</text>
<line x1="454.30" y1="543.80" x2="456.70" y2="543.80" stroke="#000" stroke-width="0.8"/>
<text x="453.80" y="547.10" font-size="9.4" text-anchor="end" >30</text>
<line x1="454.30" y1="514.40" x2="456.70" y2="514.40" stroke="#000" stroke-width="0.8"/>
<text x="453.80" y="517.70" font-size="9.4" text-anchor="end" >40</text>
<line x1="454.30" y1="485.00" x2="456.70" y2="485.00" stroke="#000" stroke-width="0.8"/>
<text x="453.80" y="488.30" font-size="9.4" text-anchor="end" >50</text>
<line x1="488.50" y1="665.10" x2="488.50" y2="667.50" stroke="#000" stroke-width="0.8"/>
<line x1="539.60" y1="665.10" x2="539.60" y2="667.50" stroke="#000" stroke-width="0.8"/>
<line x1="625.10" y1="665.10" x2="625.10" y2="667.50" stroke="#000" stroke-width="0.8"/>
<text x="471.80" y="678.40" font-size="9.4" text-anchor="start" >SOX9<tspan dy="-2.8" font-size="5.6">high</tspan></text>
<text x="523.00" y="678.40" font-size="9.4" text-anchor="start" >SOX2<tspan dy="-2.8" font-size="5.6">high</tspan></text>
<text x="592.00" y="678.40" font-size="9.4" text-anchor="start" >Large SOX2<tspan dy="-2.8" font-size="5.6">high</tspan></text>
<text x="563.00" y="690.00" font-size="9.4" text-anchor="middle" >Airway regions</text>
<text transform="translate(436.2,559.3) rotate(-90)" font-size="9.75" text-anchor="middle">Percentage (%)</text>
<text x="487.40" y="457.20" font-size="9.5" text-anchor="start" >p-value = 2.4x10<tspan dy="-3.4" font-size="5.6">-294</tspan></text>
<line x1="487.40" y1="460.90" x2="623.90" y2="460.90" stroke="#000" stroke-width="0.7"/>
<text x="487.40" y="469.70" font-size="9.5" text-anchor="start" >p-value = 2x10<tspan dy="-3.4" font-size="5.6">-75</tspan></text>
<line x1="487.40" y1="473.70" x2="539.80" y2="473.70" stroke="#000" stroke-width="0.7"/>
<text x="538.40" y="500.20" font-size="9.5" text-anchor="start" >p-value = 5.7x10<tspan dy="-3.4" font-size="5.6">-37</tspan></text>
<line x1="538.20" y1="503.30" x2="621.00" y2="503.30" stroke="#000" stroke-width="0.7"/>
<text x="491.60" y="490.60" font-size="9.5" text-anchor="start" >n= 77</text>
<text x="544.70" y="521.90" font-size="9.5" text-anchor="start" >n= 34</text>
<text x="632.70" y="585.80" font-size="9.5" text-anchor="start" >n= 29</text>
<defs><filter id="fTexE" filterUnits="userSpaceOnUse" x="445" y="30" width="175" height="375" color-interpolation-filters="sRGB">
 <feTurbulence type="fractalNoise" baseFrequency="0.8" numOctaves="1" seed="9" result="n"/>
 <feColorMatrix in="n" type="matrix" values="0 0 0 0 0.1  0 0 0 0 0.05  0 0 0 0 0.05  -2.4 0 0 0 1.15" result="dark"/>
 <feComposite in="dark" in2="SourceGraphic" operator="in" result="d2"/>
 <feMerge><feMergeNode in="SourceGraphic"/><feMergeNode in="d2"/></feMerge>
</filter>
<filter id="fRing" filterUnits="userSpaceOnUse" x="445" y="30" width="175" height="375" color-interpolation-filters="sRGB">
 <feTurbulence type="fractalNoise" baseFrequency="0.2" numOctaves="1" seed="4" result="w"/>
 <feDisplacementMap in="SourceGraphic" in2="w" scale="3" xChannelSelector="R" yChannelSelector="G"/>
</filter></defs>
<clipPath id="ce1"><rect x="451.2" y="33.6" width="156.30" height="109.10"/></clipPath>
<g clip-path="url(#ce1)"><rect x="451.2" y="33.6" width="156.30" height="109.10" fill="#000"/>
<g filter="url(#fTexE)"><g fill="none" opacity="0.45" filter="url(#fRing)">
<ellipse cx="472.3" cy="49.7" rx="3.1" ry="3.6" stroke="#a08a80" stroke-width="1.4" transform="rotate(-15 472.3 49.7)"/>
<ellipse cx="482.2" cy="63.4" rx="2.7" ry="4.2" stroke="#a08a80" stroke-width="1.2" transform="rotate(7 482.2 63.4)"/>
<ellipse cx="460.4" cy="75.8" rx="2.2" ry="2.2" stroke="#a08a80" stroke-width="1.2" transform="rotate(4 460.4 75.8)"/>
<ellipse cx="477.3" cy="89.4" rx="2.5" ry="2.0" fill="#a08a80" fill-opacity="0.8" transform="rotate(-22 477.3 89.4)"/>
<ellipse cx="464.4" cy="95.6" rx="2.0" ry="2.0" fill="#a08a80" fill-opacity="0.8" transform="rotate(-7 464.4 95.6)"/>
<ellipse cx="481.0" cy="99.8" rx="2.5" ry="2.0" fill="#a08a80" fill-opacity="0.8" transform="rotate(28 481.0 99.8)"/>
<ellipse cx="466.1" cy="103.8" rx="1.5" ry="2.0" fill="#a08a80" fill-opacity="0.8" transform="rotate(8 466.1 103.8)"/>
<ellipse cx="452.4" cy="89.4" rx="1.2" ry="2.5" fill="#a08a80" fill-opacity="0.8" transform="rotate(0 452.4 89.4)"/>
<ellipse cx="456.2" cy="39.3" rx="3.0" ry="1.5" fill="#a08a80" fill-opacity="0.8" transform="rotate(10 456.2 39.3)"/>
<ellipse cx="453.7" cy="125.4" rx="1.5" ry="2.0" fill="#a08a80" fill-opacity="0.8" transform="rotate(7 453.7 125.4)"/>
<ellipse cx="577.0" cy="49.2" rx="2.9" ry="3.4" stroke="#a08a80" stroke-width="1.3" transform="rotate(-26 577.0 49.2)"/>
<ellipse cx="588.2" cy="42.3" rx="2.0" ry="1.5" fill="#a08a80" fill-opacity="0.8" transform="rotate(8 588.2 42.3)"/>
<ellipse cx="554.2" cy="70.8" rx="3.1" ry="3.1" stroke="#a08a80" stroke-width="1.4" transform="rotate(-30 554.2 70.8)"/>
<ellipse cx="567.9" cy="72.1" rx="2.2" ry="2.2" fill="#9890c4" fill-opacity="0.8" transform="rotate(28 567.9 72.1)"/>
<ellipse cx="581.5" cy="69.6" rx="3.2" ry="2.7" stroke="#a08a80" stroke-width="1.2" transform="rotate(23 581.5 69.6)"/>
<ellipse cx="588.5" cy="70.8" rx="2.2" ry="2.2" stroke="#a08a80" stroke-width="1.2" transform="rotate(0 588.5 70.8)"/>
<ellipse cx="605.1" cy="63.4" rx="1.5" ry="2.5" fill="#a08a80" fill-opacity="0.8" transform="rotate(-14 605.1 63.4)"/>
<ellipse cx="544.3" cy="86.4" rx="2.5" ry="2.0" fill="#a08a80" fill-opacity="0.8" transform="rotate(5 544.3 86.4)"/>
<ellipse cx="566.6" cy="86.9" rx="2.0" ry="1.0" fill="#a08a80" fill-opacity="0.8" transform="rotate(-16 566.6 86.9)"/>
<ellipse cx="551.0" cy="94.4" rx="2.7" ry="3.2" stroke="#a08a80" stroke-width="1.2" transform="rotate(-18 551.0 94.4)"/>
<ellipse cx="564.1" cy="103.8" rx="2.5" ry="1.5" fill="#a08a80" fill-opacity="0.8" transform="rotate(15 564.1 103.8)"/>
<ellipse cx="593.4" cy="103.8" rx="2.2" ry="2.7" stroke="#a08a80" stroke-width="1.2" transform="rotate(0 593.4 103.8)"/>
<ellipse cx="586.5" cy="95.6" rx="2.0" ry="2.0" fill="#a08a80" fill-opacity="0.8" transform="rotate(4 586.5 95.6)"/>
<ellipse cx="566.6" cy="118.7" rx="2.2" ry="2.2" stroke="#a08a80" stroke-width="1.2" transform="rotate(23 566.6 118.7)"/>
<ellipse cx="577.8" cy="125.4" rx="3.6" ry="3.1" stroke="#a08a80" stroke-width="1.4" transform="rotate(5 577.8 125.4)"/>
<ellipse cx="598.9" cy="118.0" rx="2.0" ry="1.5" fill="#a08a80" fill-opacity="0.8" transform="rotate(0 598.9 118.0)"/>
<ellipse cx="593.9" cy="134.1" rx="4.2" ry="2.7" stroke="#9890c4" stroke-width="1.2" transform="rotate(-5 593.9 134.1)"/>
<ellipse cx="603.8" cy="134.1" rx="2.2" ry="4.7" stroke="#9890c4" stroke-width="1.2" transform="rotate(10 603.8 134.1)"/>
<ellipse cx="467.3" cy="35.3" rx="2.0" ry="1.0" fill="#a08a80" fill-opacity="0.8" transform="rotate(25 467.3 35.3)"/>
<ellipse cx="490.9" cy="34.8" rx="2.0" ry="1.0" fill="#a08a80" fill-opacity="0.8" transform="rotate(-21 490.9 34.8)"/>
<ellipse cx="515.7" cy="34.8" rx="2.0" ry="1.0" fill="#a08a80" fill-opacity="0.8" transform="rotate(-16 515.7 34.8)"/>
<ellipse cx="540.6" cy="34.8" rx="2.0" ry="1.0" fill="#a08a80" fill-opacity="0.8" transform="rotate(10 540.6 34.8)"/>
<ellipse cx="531.9" cy="67.6" rx="6.1" ry="4.9" stroke="#9890c4" stroke-width="2.3" transform="rotate(-21 531.9 67.6)"/>
</g></g>
<polygon points="487.1,42.5 489.7,41.9 496.7,43.1 503.7,43.7 510.1,40.4 511.7,44.3 507.2,47.8 500.2,50.1 493.2,50.1 488.5,47.8" fill="#72ccd4" filter="url(#fTexE)"/><polygon points="487.1,42.5 489.7,41.9 496.7,43.1 503.7,43.7 510.1,40.4 511.7,44.3 507.2,47.8 500.2,50.1 493.2,50.1 488.5,47.8" fill="none" stroke="#4ce8f2" stroke-width="1.15" stroke-linejoin="round"/>
<polygon points="510.5,40.4 513.1,37.3 520.1,37.8 527.1,37.6 529.4,39.0 527.7,43.1 523.6,44.3 518.9,41.9 513.6,42.7 511.7,44.3" fill="#a87a1c" filter="url(#fTexE)"/><polygon points="510.5,40.4 513.1,37.3 520.1,37.8 527.1,37.6 529.4,39.0 527.7,43.1 523.6,44.3 518.9,41.9 513.6,42.7 511.7,44.3" fill="none" stroke="#ffaa28" stroke-width="1.15" stroke-linejoin="round"/>
<polygon points="497.9,58.3 501.4,56.3 506.1,57.9 507.8,62.4 507.2,66.5 502.6,67.6 500.2,72.3 496.7,74.6 494.1,72.3 493.8,68.8 496.7,64.7 497.3,60.6" fill="#a87a1c" filter="url(#fTexE)"/><polygon points="497.9,58.3 501.4,56.3 506.1,57.9 507.8,62.4 507.2,66.5 502.6,67.6 500.2,72.3 496.7,74.6 494.1,72.3 493.8,68.8 496.7,64.7 497.3,60.6" fill="none" stroke="#ffaa28" stroke-width="1.15" stroke-linejoin="round"/>
<polygon points="507.2,71.7 510.7,70.3 514.0,72.3 514.5,77.0 511.9,81.6 507.8,82.8 505.5,85.7 502.0,86.3 500.2,83.4 500.8,79.9 504.9,77.0 506.1,73.5" fill="#a87a1c" filter="url(#fTexE)"/><polygon points="507.2,71.7 510.7,70.3 514.0,72.3 514.5,77.0 511.9,81.6 507.8,82.8 505.5,85.7 502.0,86.3 500.2,83.4 500.8,79.9 504.9,77.0 506.1,73.5" fill="none" stroke="#ffaa28" stroke-width="1.15" stroke-linejoin="round"/>
<polygon points="487.2,111.8 500.8,110.5 507.1,114.2 512.5,119.2 512.5,125.4 504.6,127.9 495.9,125.4 489.7,122.9 486.7,118.0" fill="#c8508f" filter="url(#fTexE)"/><polygon points="487.2,111.8 500.8,110.5 507.1,114.2 512.5,119.2 512.5,125.4 504.6,127.9 495.9,125.4 489.7,122.9 486.7,118.0" fill="none" stroke="#ff2f8c" stroke-width="1.15" stroke-linejoin="round"/>
<polygon points="492.2,115.5 500.8,114.2 507.1,119.2 505.8,122.9 497.1,121.7" fill="#86123f" stroke="#86123f" stroke-width="1.5" stroke-linejoin="round" filter="url(#blur1)"/>
<polygon points="558.4,112.2 558.4,115.1 557.5,117.7 555.9,119.3 553.8,119.6 551.7,118.7 550.0,116.6 549.1,113.8 549.0,110.9 549.9,108.4 551.5,106.8 553.6,106.4 555.7,107.3 557.4,109.4" fill="#a87a1c" filter="url(#fTexE)"/><polygon points="558.4,112.2 558.4,115.1 557.5,117.7 555.9,119.3 553.8,119.6 551.7,118.7 550.0,116.6 549.1,113.8 549.0,110.9 549.9,108.4 551.5,106.8 553.6,106.4 555.7,107.3 557.4,109.4" fill="none" stroke="#ffaa28" stroke-width="1.15" stroke-linejoin="round"/>
<polygon points="557.9,109.3 569.1,107.3 584.0,103.8 586.5,108.0 579.0,110.5 569.1,111.8 561.7,113.7 558.7,112.3" fill="#72ccd4" filter="url(#fTexE)"/><polygon points="557.9,109.3 569.1,107.3 584.0,103.8 586.5,108.0 579.0,110.5 569.1,111.8 561.7,113.7 558.7,112.3" fill="none" stroke="#4ce8f2" stroke-width="1.15" stroke-linejoin="round"/>
</g>
<clipPath id="ce2"><rect x="450.0" y="162.3" width="160.80" height="109.20"/></clipPath>
<g clip-path="url(#ce2)"><rect x="450.0" y="162.3" width="160.80" height="109.20" fill="#000"/>
<g filter="url(#fTexE)"><g fill="none" opacity="0.68" filter="url(#fRing)">
<ellipse cx="462.9" cy="167.3" rx="3.1" ry="3.1" stroke="#a08a80" stroke-width="2.4" transform="rotate(25 462.9 167.3)"/>
<ellipse cx="471.1" cy="164.8" rx="2.5" ry="2.0" fill="#a08a80" fill-opacity="0.8" transform="rotate(29 471.1 164.8)"/>
<ellipse cx="548.0" cy="184.2" rx="3.4" ry="4.4" stroke="#a08a80" stroke-width="2.7" transform="rotate(3 548.0 184.2)"/>
<ellipse cx="540.6" cy="190.9" rx="3.1" ry="3.1" stroke="#9890c4" stroke-width="2.4" transform="rotate(-6 540.6 190.9)"/>
<ellipse cx="554.2" cy="169.3" rx="3.0" ry="2.0" stroke="#a08a80" stroke-width="1.5" transform="rotate(17 554.2 169.3)"/>
<ellipse cx="574.1" cy="174.3" rx="2.7" ry="3.2" stroke="#a08a80" stroke-width="2.1" transform="rotate(-30 574.1 174.3)"/>
<ellipse cx="590.2" cy="169.8" rx="3.4" ry="4.9" stroke="#9890c4" stroke-width="2.7" transform="rotate(12 590.2 169.8)"/>
<ellipse cx="608.8" cy="176.0" rx="2.0" ry="3.5" fill="#a08a80" fill-opacity="0.8" transform="rotate(19 608.8 176.0)"/>
<ellipse cx="554.2" cy="199.6" rx="2.4" ry="2.4" stroke="#a08a80" stroke-width="1.8" transform="rotate(-26 554.2 199.6)"/>
<ellipse cx="554.2" cy="209.5" rx="2.5" ry="2.0" stroke="#a08a80" stroke-width="1.5" transform="rotate(-20 554.2 209.5)"/>
<ellipse cx="565.4" cy="205.0" rx="2.0" ry="1.5" fill="#a08a80" fill-opacity="0.8" transform="rotate(18 565.4 205.0)"/>
<ellipse cx="531.9" cy="220.7" rx="3.4" ry="3.4" stroke="#a08a80" stroke-width="2.7" transform="rotate(7 531.9 220.7)"/>
<ellipse cx="608.8" cy="212.0" rx="2.0" ry="3.0" fill="#a08a80" fill-opacity="0.8" transform="rotate(-28 608.8 212.0)"/>
<ellipse cx="557.9" cy="239.3" rx="4.5" ry="5.0" stroke="#a08a80" stroke-width="3.6" transform="rotate(-11 557.9 239.3)"/>
<ellipse cx="596.4" cy="233.1" rx="2.7" ry="6.7" stroke="#9890c4" stroke-width="2.1" transform="rotate(19 596.4 233.1)"/>
<ellipse cx="530.6" cy="251.2" rx="3.4" ry="3.4" stroke="#a08a80" stroke-width="2.7" transform="rotate(-29 530.6 251.2)"/>
<ellipse cx="570.3" cy="251.7" rx="4.3" ry="3.8" stroke="#a08a80" stroke-width="3.0" transform="rotate(22 570.3 251.7)"/>
<ellipse cx="591.4" cy="250.4" rx="2.7" ry="2.7" stroke="#a08a80" stroke-width="2.1" transform="rotate(25 591.4 250.4)"/>
<ellipse cx="549.2" cy="261.6" rx="3.1" ry="4.6" stroke="#a08a80" stroke-width="2.4" transform="rotate(-13 549.2 261.6)"/>
<ellipse cx="601.4" cy="266.6" rx="3.5" ry="2.0" stroke="#9890c4" stroke-width="1.5" transform="rotate(0 601.4 266.6)"/>
<ellipse cx="482.2" cy="264.1" rx="3.1" ry="4.1" stroke="#9890c4" stroke-width="2.4" transform="rotate(8 482.2 264.1)"/>
<ellipse cx="471.1" cy="267.8" rx="2.9" ry="2.4" stroke="#a08a80" stroke-width="1.8" transform="rotate(16 471.1 267.8)"/>
<ellipse cx="486.0" cy="234.3" rx="2.0" ry="2.0" fill="#a08a80" fill-opacity="0.8" transform="rotate(28 486.0 234.3)"/>
<ellipse cx="565.4" cy="269.1" rx="3.5" ry="2.0" fill="#a08a80" fill-opacity="0.8" transform="rotate(26 565.4 269.1)"/>
<ellipse cx="533.1" cy="164.3" rx="2.0" ry="1.2" fill="#a08a80" fill-opacity="0.8" transform="rotate(-6 533.1 164.3)"/>
<ellipse cx="586.5" cy="164.3" rx="2.5" ry="2.0" fill="#a08a80" fill-opacity="0.8" transform="rotate(15 586.5 164.3)"/>
</g></g>
<polygon points="471.6,178.0 479.6,174.4 487.8,173.3 493.0,178.8 495.4,188.9 496.5,196.1 493.3,206.2 491.1,210.5 484.6,216.3 481.0,222.1 476.0,229.3 468.8,237.9 462.2,244.9 455.8,243.7 452.1,239.1 454.0,234.3 460.1,231.4 464.4,227.1 465.1,220.6 468.0,210.5 471.6,201.9 474.5,193.2 471.6,186.0" fill="#c8508f" filter="url(#fTexE)"/><polygon points="471.6,178.0 479.6,174.4 487.8,173.3 493.0,178.8 495.4,188.9 496.5,196.1 493.3,206.2 491.1,210.5 484.6,216.3 481.0,222.1 476.0,229.3 468.8,237.9 462.2,244.9 455.8,243.7 452.1,239.1 454.0,234.3 460.1,231.4 464.4,227.1 465.1,220.6 468.0,210.5 471.6,201.9 474.5,193.2 471.6,186.0" fill="none" stroke="#ff2f8c" stroke-width="1.15" stroke-linejoin="round"/>
<polygon points="483.2,188.9 487.5,188.2 488.7,193.2 486.8,200.4 482.5,207.6 478.1,214.8 473.1,222.1 470.2,223.5 471.6,217.7 476.0,209.1 479.6,201.9 481.4,194.6" fill="#86123f" stroke="#86123f" stroke-width="1.5" stroke-linejoin="round" filter="url(#blur1)"/>
<polygon points="501.2,183.8 505.5,181.4 510.6,184.5 513.5,191.0 511.3,195.8 505.5,196.1 500.5,192.5" fill="#a87a1c" filter="url(#fTexE)"/><polygon points="501.2,183.8 505.5,181.4 510.6,184.5 513.5,191.0 511.3,195.8 505.5,196.1 500.5,192.5" fill="none" stroke="#ffaa28" stroke-width="1.15" stroke-linejoin="round"/>
<polygon points="514.2,187.4 520.7,182.4 527.2,185.2 527.9,191.0 525.0,195.3 520.7,194.6 520.7,192.5 513.5,192.0" fill="#a87a1c" filter="url(#fTexE)"/><polygon points="514.2,187.4 520.7,182.4 527.2,185.2 527.9,191.0 525.0,195.3 520.7,194.6 520.7,192.5 513.5,192.0" fill="none" stroke="#ffaa28" stroke-width="1.15" stroke-linejoin="round"/>
<polygon points="499.8,215.6 502.7,210.5 508.4,206.5 512.8,210.5 512.3,217.0 509.2,222.4 502.7,222.1 499.8,220.6" fill="#a87a1c" filter="url(#fTexE)"/><polygon points="499.8,215.6 502.7,210.5 508.4,206.5 512.8,210.5 512.3,217.0 509.2,222.4 502.7,222.1 499.8,220.6" fill="none" stroke="#ffaa28" stroke-width="1.15" stroke-linejoin="round"/>
<polygon points="512.8,192.5 520.4,192.5 521.4,199.7 525.0,203.3 533.0,205.9 532.2,210.5 527.2,212.3 520.7,209.1 514.9,208.4 509.4,205.5 510.6,199.0" fill="#72ccd4" filter="url(#fTexE)"/><polygon points="512.8,192.5 520.4,192.5 521.4,199.7 525.0,203.3 533.0,205.9 532.2,210.5 527.2,212.3 520.7,209.1 514.9,208.4 509.4,205.5 510.6,199.0" fill="none" stroke="#4ce8f2" stroke-width="1.15" stroke-linejoin="round"/>
<polygon points="494.7,245.1 499.1,238.7 507.0,234.8 513.5,235.3 516.4,238.7 513.5,246.6 509.9,253.1 501.9,253.8 496.2,250.2" fill="#a87a1c" filter="url(#fTexE)"/><polygon points="494.7,245.1 499.1,238.7 507.0,234.8 513.5,235.3 516.4,238.7 513.5,246.6 509.9,253.1 501.9,253.8 496.2,250.2" fill="none" stroke="#ffaa28" stroke-width="1.15" stroke-linejoin="round"/>
<polygon points="587.2,197.1 585.9,201.8 582.4,204.6 578.1,204.6 574.6,201.8 573.3,197.1 574.6,192.4 578.1,189.5 582.4,189.5 585.9,192.4" fill="#a87a1c" filter="url(#fTexE)"/><polygon points="587.2,197.1 585.9,201.8 582.4,204.6 578.1,204.6 574.6,201.8 573.3,197.1 574.6,192.4 578.1,189.5 582.4,189.5 585.9,192.4" fill="none" stroke="#ffaa28" stroke-width="1.15" stroke-linejoin="round"/>
<polygon points="608.3,195.8 607.0,199.8 603.5,202.2 599.2,202.2 595.7,199.8 594.4,195.8 595.7,191.9 599.2,189.5 603.5,189.5 607.0,191.9" fill="#a87a1c" filter="url(#fTexE)"/><polygon points="608.3,195.8 607.0,199.8 603.5,202.2 599.2,202.2 595.7,199.8 594.4,195.8 595.7,191.9 599.2,189.5 603.5,189.5 607.0,191.9" fill="none" stroke="#ffaa28" stroke-width="1.15" stroke-linejoin="round"/>
<polygon points="581.5,195.1 589.0,194.1 597.6,196.6 598.4,202.1 592.7,207.5 585.2,202.1" fill="#72ccd4" filter="url(#fTexE)"/><polygon points="581.5,195.1 589.0,194.1 597.6,196.6 598.4,202.1 592.7,207.5 585.2,202.1" fill="none" stroke="#4ce8f2" stroke-width="1.15" stroke-linejoin="round"/>
</g>
<clipPath id="ce3"><rect x="451.2" y="292.8" width="161.30" height="108.70"/></clipPath>
<g clip-path="url(#ce3)"><rect x="451.2" y="292.8" width="161.30" height="108.70" fill="#000"/>
<g filter="url(#fTexE)"><g fill="none" opacity="0.68" filter="url(#fRing)">
<ellipse cx="460.4" cy="322.6" rx="2.0" ry="2.5" stroke="#a08a80" stroke-width="1.5" transform="rotate(20 460.4 322.6)"/>
<ellipse cx="469.8" cy="332.1" rx="2.0" ry="3.5" fill="#a08a80" fill-opacity="0.8" transform="rotate(28 469.8 332.1)"/>
<ellipse cx="469.3" cy="340.7" rx="2.0" ry="2.5" stroke="#a08a80" stroke-width="1.5" transform="rotate(-3 469.3 340.7)"/>
<ellipse cx="484.0" cy="344.0" rx="2.9" ry="2.4" stroke="#a08a80" stroke-width="1.8" transform="rotate(-5 484.0 344.0)"/>
<ellipse cx="459.9" cy="365.6" rx="3.2" ry="2.7" stroke="#9890c4" stroke-width="2.1" transform="rotate(16 459.9 365.6)"/>
<ellipse cx="469.8" cy="365.6" rx="2.5" ry="2.0" stroke="#a08a80" stroke-width="1.5" transform="rotate(21 469.8 365.6)"/>
<ellipse cx="462.4" cy="375.5" rx="2.0" ry="4.0" fill="#9890c4" fill-opacity="0.8" transform="rotate(6 462.4 375.5)"/>
<ellipse cx="456.2" cy="382.9" rx="1.5" ry="1.5" fill="#a08a80" fill-opacity="0.8" transform="rotate(-2 456.2 382.9)"/>
<ellipse cx="490.9" cy="377.2" rx="2.0" ry="2.5" stroke="#a08a80" stroke-width="1.5" transform="rotate(29 490.9 377.2)"/>
<ellipse cx="500.8" cy="379.2" rx="2.4" ry="2.4" stroke="#a08a80" stroke-width="1.8" transform="rotate(-22 500.8 379.2)"/>
<ellipse cx="469.8" cy="390.4" rx="2.5" ry="2.0" fill="#9890c4" fill-opacity="0.8" transform="rotate(26 469.8 390.4)"/>
<ellipse cx="497.1" cy="392.9" rx="2.9" ry="2.4" stroke="#a08a80" stroke-width="1.8" transform="rotate(-7 497.1 392.9)"/>
<ellipse cx="504.6" cy="395.3" rx="2.0" ry="2.0" stroke="#a08a80" stroke-width="1.5" transform="rotate(-24 504.6 395.3)"/>
<ellipse cx="490.9" cy="395.3" rx="2.0" ry="2.0" stroke="#a08a80" stroke-width="1.5" transform="rotate(-28 490.9 395.3)"/>
<ellipse cx="519.5" cy="388.6" rx="2.9" ry="2.4" stroke="#a08a80" stroke-width="1.8" transform="rotate(-22 519.5 388.6)"/>
<ellipse cx="556.2" cy="351.9" rx="2.4" ry="2.9" stroke="#a08a80" stroke-width="1.8" transform="rotate(1 556.2 351.9)"/>
<ellipse cx="589.0" cy="330.8" rx="2.0" ry="2.0" fill="#a08a80" fill-opacity="0.8" transform="rotate(-17 589.0 330.8)"/>
<ellipse cx="574.1" cy="339.0" rx="2.0" ry="2.0" stroke="#a08a80" stroke-width="1.5" transform="rotate(-14 574.1 339.0)"/>
<ellipse cx="584.0" cy="342.5" rx="2.0" ry="3.0" stroke="#a08a80" stroke-width="1.5" transform="rotate(13 584.0 342.5)"/>
<ellipse cx="603.8" cy="315.9" rx="2.0" ry="2.5" stroke="#a08a80" stroke-width="1.5" transform="rotate(-3 603.8 315.9)"/>
<ellipse cx="602.6" cy="304.7" rx="2.0" ry="2.0" fill="#a08a80" fill-opacity="0.8" transform="rotate(19 602.6 304.7)"/>
<ellipse cx="577.8" cy="302.3" rx="4.2" ry="2.7" stroke="#9890c4" stroke-width="2.1" transform="rotate(10 577.8 302.3)"/>
<ellipse cx="567.9" cy="384.7" rx="2.4" ry="2.9" stroke="#a08a80" stroke-width="1.8" transform="rotate(24 567.9 384.7)"/>
<ellipse cx="580.3" cy="378.7" rx="2.4" ry="2.9" stroke="#a08a80" stroke-width="1.8" transform="rotate(-11 580.3 378.7)"/>
<ellipse cx="603.8" cy="371.8" rx="2.0" ry="2.0" fill="#a08a80" fill-opacity="0.8" transform="rotate(-4 603.8 371.8)"/>
<ellipse cx="582.0" cy="398.6" rx="2.5" ry="2.0" fill="#a08a80" fill-opacity="0.8" transform="rotate(2 582.0 398.6)"/>
<ellipse cx="598.9" cy="397.8" rx="2.0" ry="2.0" fill="#a08a80" fill-opacity="0.8" transform="rotate(23 598.9 397.8)"/>
<ellipse cx="556.7" cy="399.1" rx="2.5" ry="1.5" fill="#a08a80" fill-opacity="0.8" transform="rotate(-6 556.7 399.1)"/>
<ellipse cx="459.9" cy="399.1" rx="2.0" ry="1.5" fill="#a08a80" fill-opacity="0.8" transform="rotate(6 459.9 399.1)"/>
<ellipse cx="596.4" cy="299.3" rx="2.0" ry="1.0" fill="#a08a80" fill-opacity="0.8" transform="rotate(-8 596.4 299.3)"/>
</g></g>
<polygon points="461.7,299.3 464.0,297.0 469.8,296.1 475.1,296.8 477.1,299.3 476.3,303.4 473.4,305.8 467.5,306.4 463.4,305.2 461.5,302.3" fill="#a87a1c" filter="url(#fTexE)"/><polygon points="461.7,299.3 464.0,297.0 469.8,296.1 475.1,296.8 477.1,299.3 476.3,303.4 473.4,305.8 467.5,306.4 463.4,305.2 461.5,302.3" fill="none" stroke="#ffaa28" stroke-width="1.15" stroke-linejoin="round"/>
<polygon points="477.4,323.3 481.5,320.6 485.6,321.3 487.6,324.5 486.2,328.0 482.1,329.7 478.6,328.3 476.9,325.6" fill="#a87a1c" filter="url(#fTexE)"/><polygon points="477.4,323.3 481.5,320.6 485.6,321.3 487.6,324.5 486.2,328.0 482.1,329.7 478.6,328.3 476.9,325.6" fill="none" stroke="#ffaa28" stroke-width="1.15" stroke-linejoin="round"/>
<polygon points="467.5,306.4 471.6,305.2 473.9,307.5 476.3,312.2 479.2,311.0 482.7,306.9 486.2,306.4 487.1,309.9 484.5,313.4 481.5,316.3 481.3,322.1 477.4,322.1 475.1,319.2 471.0,316.3 469.3,311.6" fill="#72ccd4" filter="url(#fTexE)"/><polygon points="467.5,306.4 471.6,305.2 473.9,307.5 476.3,312.2 479.2,311.0 482.7,306.9 486.2,306.4 487.1,309.9 484.5,313.4 481.5,316.3 481.3,322.1 477.4,322.1 475.1,319.2 471.0,316.3 469.3,311.6" fill="none" stroke="#4ce8f2" stroke-width="1.15" stroke-linejoin="round"/>
<polygon points="560.4,312.3 565.0,310.1 570.8,310.4 576.0,313.0 578.9,318.2 578.6,324.0 575.4,329.2 570.2,334.0 564.3,337.4 557.9,338.7 552.0,337.7 548.1,334.0 547.5,329.9 550.1,324.7 554.6,319.5" fill="#c8508f" filter="url(#fTexE)"/><polygon points="560.4,312.3 565.0,310.1 570.8,310.4 576.0,313.0 578.9,318.2 578.6,324.0 575.4,329.2 570.2,334.0 564.3,337.4 557.9,338.7 552.0,337.7 548.1,334.0 547.5,329.9 550.1,324.7 554.6,319.5" fill="none" stroke="#ff2f8c" stroke-width="1.15" stroke-linejoin="round"/>
<polygon points="563.7,320.8 566.9,317.5 570.8,316.9 572.8,319.5 570.8,324.0 566.3,328.6 560.4,332.5 556.5,332.5 555.9,329.2 559.1,325.3" fill="#86123f" stroke="#86123f" stroke-width="1.5" stroke-linejoin="round" filter="url(#blur1)"/>
<polygon points="548.5,351.9 547.5,355.1 544.7,357.1 541.4,357.1 538.6,355.1 537.6,351.9 538.6,348.7 541.4,346.7 544.7,346.7 547.5,348.7" fill="#a87a1c" filter="url(#fTexE)"/><polygon points="548.5,351.9 547.5,355.1 544.7,357.1 541.4,357.1 538.6,355.1 537.6,351.9 538.6,348.7 541.4,346.7 544.7,346.7 547.5,348.7" fill="none" stroke="#ffaa28" stroke-width="1.15" stroke-linejoin="round"/>
<polygon points="531.9,359.4 530.9,362.6 528.4,364.5 525.4,364.5 522.9,362.6 521.9,359.4 522.9,356.1 525.4,354.2 528.4,354.2 530.9,356.1" fill="#a87a1c" filter="url(#fTexE)"/><polygon points="531.9,359.4 530.9,362.6 528.4,364.5 525.4,364.5 522.9,362.6 521.9,359.4 522.9,356.1 525.4,354.2 528.4,354.2 530.9,356.1" fill="none" stroke="#ffaa28" stroke-width="1.15" stroke-linejoin="round"/>
<polygon points="535.1,368.0 534.2,370.2 532.0,371.6 529.2,371.6 527.0,370.2 526.2,368.0 527.0,365.9 529.2,364.5 532.0,364.5 534.2,365.9" fill="#a87a1c" filter="url(#fTexE)"/><polygon points="535.1,368.0 534.2,370.2 532.0,371.6 529.2,371.6 527.0,370.2 526.2,368.0 527.0,365.9 529.2,364.5 532.0,364.5 534.2,365.9" fill="none" stroke="#ffaa28" stroke-width="1.15" stroke-linejoin="round"/>
<polygon points="556.7,365.6 555.8,368.8 553.6,370.8 550.8,370.8 548.6,368.8 547.8,365.6 548.6,362.3 550.8,360.4 553.6,360.4 555.8,362.3" fill="#a87a1c" filter="url(#fTexE)"/><polygon points="556.7,365.6 555.8,368.8 553.6,370.8 550.8,370.8 548.6,368.8 547.8,365.6 548.6,362.3 550.8,360.4 553.6,360.4 555.8,362.3" fill="none" stroke="#ffaa28" stroke-width="1.15" stroke-linejoin="round"/>
<polygon points="555.7,375.5 554.8,378.1 552.6,379.7 549.8,379.7 547.6,378.1 546.8,375.5 547.6,372.9 549.8,371.2 552.6,371.2 554.8,372.9" fill="#a87a1c" filter="url(#fTexE)"/><polygon points="555.7,375.5 554.8,378.1 552.6,379.7 549.8,379.7 547.6,378.1 546.8,375.5 547.6,372.9 549.8,371.2 552.6,371.2 554.8,372.9" fill="none" stroke="#ffaa28" stroke-width="1.15" stroke-linejoin="round"/>
<polygon points="530.6,358.1 538.1,355.6 544.3,363.1 550.5,368.0 549.2,373.0 544.3,373.0 538.1,365.6 530.6,365.6" fill="#72ccd4" filter="url(#fTexE)"/><polygon points="530.6,358.1 538.1,355.6 544.3,363.1 550.5,368.0 549.2,373.0 544.3,373.0 538.1,365.6 530.6,365.6" fill="none" stroke="#4ce8f2" stroke-width="1.15" stroke-linejoin="round"/>
</g>
</svg></body></html>
